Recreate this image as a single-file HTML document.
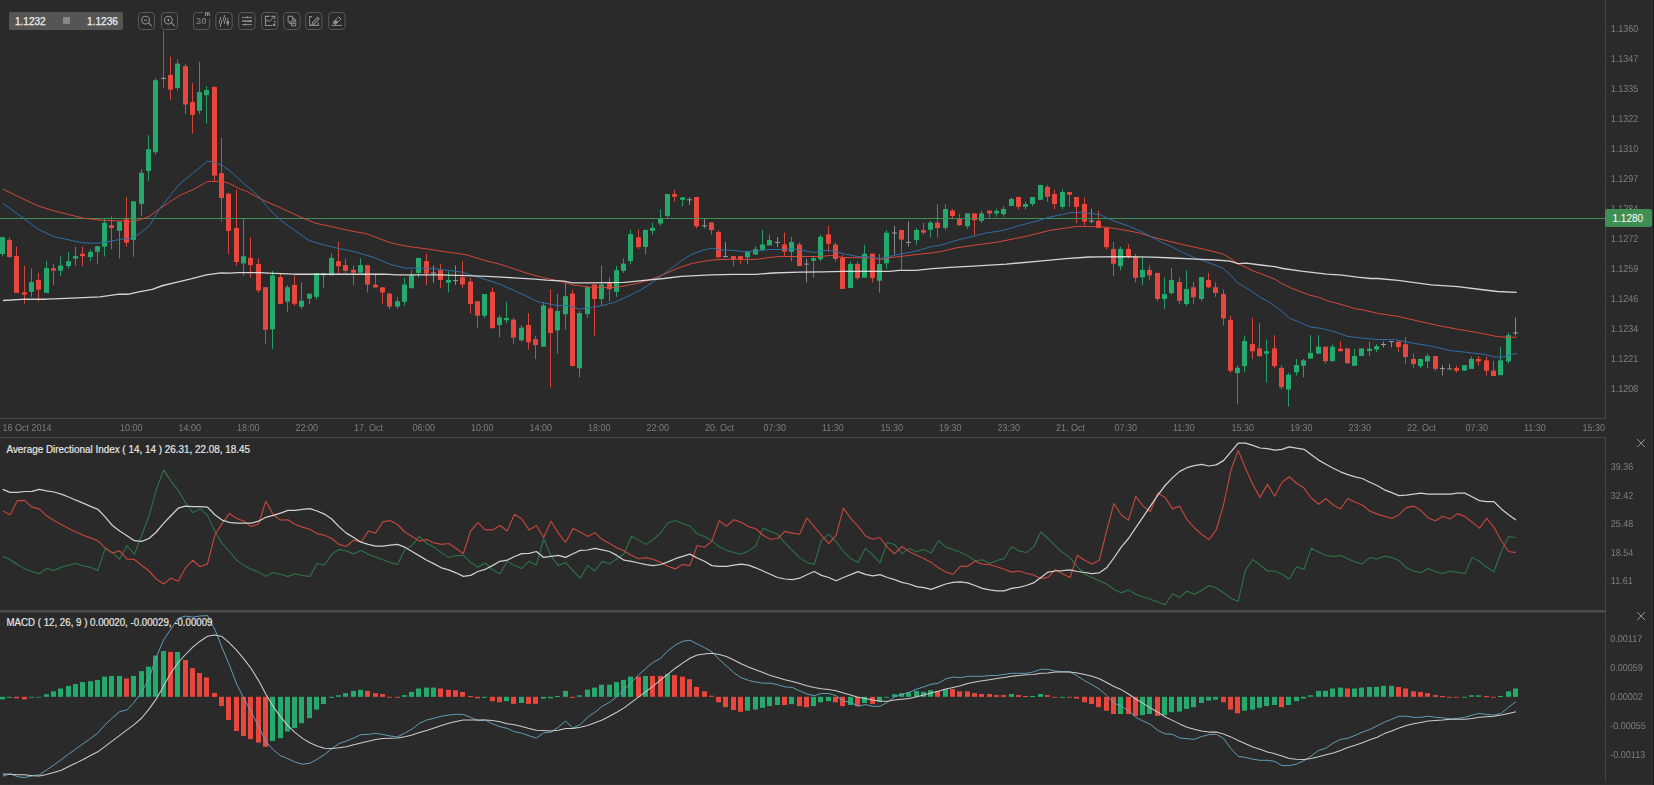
<!DOCTYPE html>
<html><head><meta charset="utf-8"><title>Chart</title>
<style>html,body{margin:0;padding:0;background:#2a2a2a;width:1654px;height:785px;overflow:hidden;position:relative}</style></head>
<body>
<svg width="1654" height="785" viewBox="0 0 1654 785" style="display:block;font-family:'Liberation Sans',sans-serif">
<rect x="0" y="0" width="1654" height="785" fill="#2a2a2a"/>
<g fill="#454545">
<rect x="1605" y="0" width="1" height="418"/>
<rect x="1605" y="437" width="1" height="345"/>
<rect x="0" y="418" width="1606" height="1"/>
<rect x="0" y="437" width="1606" height="1"/>
</g>
<rect x="0" y="610" width="1605" height="2.5" fill="#4c4c4c"/>
<rect x="0" y="784" width="1654" height="1" fill="#303030"/>
<rect x="1652" y="0" width="1" height="785" fill="#343434"/>
<rect x="1653" y="0" width="1" height="785" fill="#151515"/>
<g fill="#454545">
<rect x="1.50" y="419" width="1" height="1.2" fill="#3a3a3a"/>
<rect x="30.75" y="419" width="1" height="1.2" fill="#3a3a3a"/>
<rect x="60.00" y="419" width="1" height="1.2" fill="#3a3a3a"/>
<rect x="89.25" y="419" width="1" height="1.2" fill="#3a3a3a"/>
<rect x="118.50" y="419" width="1" height="1.2" fill="#3a3a3a"/>
<rect x="147.75" y="419" width="1" height="1.2" fill="#3a3a3a"/>
<rect x="177.00" y="419" width="1" height="1.2" fill="#3a3a3a"/>
<rect x="206.25" y="419" width="1" height="1.2" fill="#3a3a3a"/>
<rect x="235.50" y="419" width="1" height="1.2" fill="#3a3a3a"/>
<rect x="264.75" y="419" width="1" height="1.2" fill="#3a3a3a"/>
<rect x="294.00" y="419" width="1" height="1.2" fill="#3a3a3a"/>
<rect x="323.25" y="419" width="1" height="1.2" fill="#3a3a3a"/>
<rect x="352.50" y="419" width="1" height="1.2" fill="#3a3a3a"/>
<rect x="381.75" y="419" width="1" height="1.2" fill="#3a3a3a"/>
<rect x="411.00" y="419" width="1" height="1.2" fill="#3a3a3a"/>
<rect x="440.25" y="419" width="1" height="1.2" fill="#3a3a3a"/>
<rect x="469.50" y="419" width="1" height="1.2" fill="#3a3a3a"/>
<rect x="498.75" y="419" width="1" height="1.2" fill="#3a3a3a"/>
<rect x="528.00" y="419" width="1" height="1.2" fill="#3a3a3a"/>
<rect x="557.25" y="419" width="1" height="1.2" fill="#3a3a3a"/>
<rect x="586.50" y="419" width="1" height="1.2" fill="#3a3a3a"/>
<rect x="615.75" y="419" width="1" height="1.2" fill="#3a3a3a"/>
<rect x="645.00" y="419" width="1" height="1.2" fill="#3a3a3a"/>
<rect x="674.25" y="419" width="1" height="1.2" fill="#3a3a3a"/>
<rect x="703.50" y="419" width="1" height="1.2" fill="#3a3a3a"/>
<rect x="732.75" y="419" width="1" height="1.2" fill="#3a3a3a"/>
<rect x="762.00" y="419" width="1" height="1.2" fill="#3a3a3a"/>
<rect x="791.25" y="419" width="1" height="1.2" fill="#3a3a3a"/>
<rect x="820.50" y="419" width="1" height="1.2" fill="#3a3a3a"/>
<rect x="849.75" y="419" width="1" height="1.2" fill="#3a3a3a"/>
<rect x="879.00" y="419" width="1" height="1.2" fill="#3a3a3a"/>
<rect x="908.25" y="419" width="1" height="1.2" fill="#3a3a3a"/>
<rect x="937.50" y="419" width="1" height="1.2" fill="#3a3a3a"/>
<rect x="966.75" y="419" width="1" height="1.2" fill="#3a3a3a"/>
<rect x="996.00" y="419" width="1" height="1.2" fill="#3a3a3a"/>
<rect x="1025.25" y="419" width="1" height="1.2" fill="#3a3a3a"/>
<rect x="1054.50" y="419" width="1" height="1.2" fill="#3a3a3a"/>
<rect x="1083.75" y="419" width="1" height="1.2" fill="#3a3a3a"/>
<rect x="1113.00" y="419" width="1" height="1.2" fill="#3a3a3a"/>
<rect x="1142.25" y="419" width="1" height="1.2" fill="#3a3a3a"/>
<rect x="1171.50" y="419" width="1" height="1.2" fill="#3a3a3a"/>
<rect x="1200.75" y="419" width="1" height="1.2" fill="#3a3a3a"/>
<rect x="1230.00" y="419" width="1" height="1.2" fill="#3a3a3a"/>
<rect x="1259.25" y="419" width="1" height="1.2" fill="#3a3a3a"/>
<rect x="1288.50" y="419" width="1" height="1.2" fill="#3a3a3a"/>
<rect x="1317.75" y="419" width="1" height="1.2" fill="#3a3a3a"/>
<rect x="1347.00" y="419" width="1" height="1.2" fill="#3a3a3a"/>
<rect x="1376.25" y="419" width="1" height="1.2" fill="#3a3a3a"/>
<rect x="1405.50" y="419" width="1" height="1.2" fill="#3a3a3a"/>
<rect x="1434.75" y="419" width="1" height="1.2" fill="#3a3a3a"/>
<rect x="1464.00" y="419" width="1" height="1.2" fill="#3a3a3a"/>
<rect x="1493.25" y="419" width="1" height="1.2" fill="#3a3a3a"/>
<rect x="1522.50" y="419" width="1" height="1.2" fill="#3a3a3a"/>
<rect x="1551.75" y="419" width="1" height="1.2" fill="#3a3a3a"/>
<rect x="1581.00" y="419" width="1" height="1.2" fill="#3a3a3a"/>
</g>
<rect x="1606" y="27.8" width="1.5" height="1" fill="#3e3e3e"/>
<rect x="1606" y="57.8" width="1.5" height="1" fill="#3e3e3e"/>
<rect x="1606" y="87.8" width="1.5" height="1" fill="#3e3e3e"/>
<rect x="1606" y="117.8" width="1.5" height="1" fill="#3e3e3e"/>
<rect x="1606" y="147.8" width="1.5" height="1" fill="#3e3e3e"/>
<rect x="1606" y="177.8" width="1.5" height="1" fill="#3e3e3e"/>
<rect x="1606" y="207.8" width="1.5" height="1" fill="#3e3e3e"/>
<rect x="1606" y="237.8" width="1.5" height="1" fill="#3e3e3e"/>
<rect x="1606" y="267.8" width="1.5" height="1" fill="#3e3e3e"/>
<rect x="1606" y="297.8" width="1.5" height="1" fill="#3e3e3e"/>
<rect x="1606" y="327.8" width="1.5" height="1" fill="#3e3e3e"/>
<rect x="1606" y="357.8" width="1.5" height="1" fill="#3e3e3e"/>
<rect x="1606" y="387.8" width="1.5" height="1" fill="#3e3e3e"/>
<rect x="1606" y="465.9" width="1.5" height="1" fill="#3e3e3e"/>
<rect x="1606" y="494.7" width="1.5" height="1" fill="#3e3e3e"/>
<rect x="1606" y="523.3" width="1.5" height="1" fill="#3e3e3e"/>
<rect x="1606" y="551.9" width="1.5" height="1" fill="#3e3e3e"/>
<rect x="1606" y="580.5" width="1.5" height="1" fill="#3e3e3e"/>
<rect x="1606" y="638.5" width="1.5" height="1" fill="#3e3e3e"/>
<rect x="1606" y="667.3" width="1.5" height="1" fill="#3e3e3e"/>
<rect x="1606" y="696.0" width="1.5" height="1" fill="#3e3e3e"/>
<rect x="1606" y="724.8" width="1.5" height="1" fill="#3e3e3e"/>
<rect x="1606" y="753.7" width="1.5" height="1" fill="#3e3e3e"/>
<g>
<rect x="2.00" y="237.0" width="1" height="19.2" fill="#249d65"/>
<rect x="0.00" y="237.1" width="5" height="16.9" fill="#26a96c"/>
<rect x="9.00" y="237.6" width="1" height="20.5" fill="#d8443a"/>
<rect x="7.00" y="239.9" width="5" height="17.1" fill="#e8473d"/>
<rect x="16.00" y="246.6" width="1" height="46.3" fill="#d8443a"/>
<rect x="14.00" y="256.2" width="5" height="36.7" fill="#e8473d"/>
<rect x="24.00" y="265.8" width="1" height="38.0" fill="#d8443a"/>
<rect x="22.00" y="292.3" width="5" height="2.3" fill="#e8473d"/>
<rect x="31.00" y="268.6" width="1" height="28.1" fill="#249d65"/>
<rect x="29.00" y="282.0" width="5" height="9.9" fill="#26a96c"/>
<rect x="38.00" y="273.0" width="1" height="28.2" fill="#d8443a"/>
<rect x="36.00" y="280.0" width="5" height="9.6" fill="#e8473d"/>
<rect x="46.00" y="261.1" width="1" height="31.8" fill="#249d65"/>
<rect x="44.00" y="268.1" width="5" height="24.8" fill="#26a96c"/>
<rect x="53.00" y="263.9" width="1" height="21.2" fill="#d8443a"/>
<rect x="51.00" y="268.2" width="5" height="2.5" fill="#e8473d"/>
<rect x="60.00" y="256.5" width="1" height="19.2" fill="#249d65"/>
<rect x="58.00" y="265.6" width="5" height="5.1" fill="#26a96c"/>
<rect x="68.00" y="252.0" width="1" height="16.6" fill="#249d65"/>
<rect x="66.00" y="261.1" width="5" height="5.0" fill="#26a96c"/>
<rect x="75.00" y="246.6" width="1" height="19.2" fill="#249d65"/>
<rect x="73.00" y="256.2" width="5" height="2.4" fill="#26a96c"/>
<rect x="82.00" y="246.6" width="1" height="19.5" fill="#d8443a"/>
<rect x="80.00" y="253.8" width="5" height="2.4" fill="#e8473d"/>
<rect x="90.00" y="249.5" width="1" height="11.6" fill="#249d65"/>
<rect x="88.00" y="252.0" width="5" height="5.0" fill="#26a96c"/>
<rect x="97.00" y="246.2" width="1" height="17.4" fill="#249d65"/>
<rect x="95.00" y="246.2" width="5" height="5.5" fill="#26a96c"/>
<rect x="104.00" y="218.9" width="1" height="37.6" fill="#249d65"/>
<rect x="102.00" y="222.7" width="5" height="24.0" fill="#26a96c"/>
<rect x="111.00" y="216.4" width="1" height="32.8" fill="#d8443a"/>
<rect x="109.00" y="225.2" width="5" height="2.8" fill="#e8473d"/>
<rect x="119.00" y="221.2" width="1" height="37.2" fill="#249d65"/>
<rect x="117.00" y="221.6" width="5" height="9.2" fill="#26a96c"/>
<rect x="126.00" y="197.1" width="1" height="49.7" fill="#d8443a"/>
<rect x="124.00" y="219.2" width="5" height="23.5" fill="#e8473d"/>
<rect x="133.00" y="201.3" width="1" height="55.5" fill="#249d65"/>
<rect x="131.00" y="201.3" width="5" height="38.6" fill="#26a96c"/>
<rect x="141.00" y="169.0" width="1" height="47.2" fill="#249d65"/>
<rect x="139.00" y="172.8" width="5" height="31.0" fill="#26a96c"/>
<rect x="148.00" y="135.2" width="1" height="45.7" fill="#249d65"/>
<rect x="146.00" y="149.2" width="5" height="21.8" fill="#26a96c"/>
<rect x="155.00" y="78.4" width="1" height="76.0" fill="#249d65"/>
<rect x="153.00" y="80.2" width="5" height="72.0" fill="#26a96c"/>
<rect x="163.00" y="30.8" width="1" height="56.8" fill="#6a6a6a"/>
<rect x="161.00" y="77.9" width="5" height="1" fill="#9a9a9a"/>
<rect x="170.00" y="56.5" width="1" height="43.1" fill="#d8443a"/>
<rect x="168.00" y="75.0" width="5" height="14.6" fill="#e8473d"/>
<rect x="177.00" y="59.3" width="1" height="31.2" fill="#249d65"/>
<rect x="175.00" y="63.6" width="5" height="24.4" fill="#26a96c"/>
<rect x="185.00" y="64.0" width="1" height="50.1" fill="#d8443a"/>
<rect x="183.00" y="66.1" width="5" height="38.4" fill="#e8473d"/>
<rect x="192.00" y="83.3" width="1" height="50.2" fill="#d8443a"/>
<rect x="190.00" y="102.0" width="5" height="12.8" fill="#e8473d"/>
<rect x="199.00" y="61.8" width="1" height="52.3" fill="#249d65"/>
<rect x="197.00" y="92.1" width="5" height="18.7" fill="#26a96c"/>
<rect x="206.00" y="86.0" width="1" height="37.6" fill="#249d65"/>
<rect x="204.00" y="90.1" width="5" height="5.0" fill="#26a96c"/>
<rect x="214.00" y="86.0" width="1" height="96.2" fill="#d8443a"/>
<rect x="212.00" y="87.1" width="5" height="88.5" fill="#e8473d"/>
<rect x="221.00" y="137.7" width="1" height="83.8" fill="#d8443a"/>
<rect x="219.00" y="173.1" width="5" height="24.9" fill="#e8473d"/>
<rect x="228.00" y="192.7" width="1" height="61.3" fill="#d8443a"/>
<rect x="226.00" y="193.8" width="5" height="37.0" fill="#e8473d"/>
<rect x="236.00" y="189.7" width="1" height="76.0" fill="#d8443a"/>
<rect x="234.00" y="228.0" width="5" height="34.0" fill="#e8473d"/>
<rect x="243.00" y="218.5" width="1" height="57.2" fill="#249d65"/>
<rect x="241.00" y="256.2" width="5" height="7.2" fill="#26a96c"/>
<rect x="250.00" y="237.4" width="1" height="40.0" fill="#d8443a"/>
<rect x="248.00" y="257.9" width="5" height="7.2" fill="#e8473d"/>
<rect x="258.00" y="258.4" width="1" height="34.2" fill="#d8443a"/>
<rect x="256.00" y="264.0" width="5" height="26.4" fill="#e8473d"/>
<rect x="265.00" y="287.2" width="1" height="57.3" fill="#d8443a"/>
<rect x="263.00" y="287.2" width="5" height="42.6" fill="#e8473d"/>
<rect x="272.00" y="270.9" width="1" height="78.0" fill="#249d65"/>
<rect x="270.00" y="275.3" width="5" height="54.1" fill="#26a96c"/>
<rect x="280.00" y="273.5" width="1" height="30.3" fill="#d8443a"/>
<rect x="278.00" y="277.0" width="5" height="26.8" fill="#e8473d"/>
<rect x="287.00" y="285.0" width="1" height="26.6" fill="#249d65"/>
<rect x="285.00" y="287.2" width="5" height="14.5" fill="#26a96c"/>
<rect x="294.00" y="275.3" width="1" height="30.7" fill="#d8443a"/>
<rect x="292.00" y="285.0" width="5" height="18.8" fill="#e8473d"/>
<rect x="301.00" y="282.2" width="1" height="26.6" fill="#249d65"/>
<rect x="299.00" y="300.8" width="5" height="5.9" fill="#26a96c"/>
<rect x="309.00" y="293.7" width="1" height="10.8" fill="#249d65"/>
<rect x="307.00" y="293.7" width="5" height="4.9" fill="#26a96c"/>
<rect x="316.00" y="273.1" width="1" height="26.4" fill="#249d65"/>
<rect x="314.00" y="273.1" width="5" height="23.8" fill="#26a96c"/>
<rect x="323.00" y="273.1" width="1" height="14.7" fill="#249d65"/>
<rect x="321.00" y="273.1" width="5" height="2.2" fill="#26a96c"/>
<rect x="331.00" y="253.6" width="1" height="21.7" fill="#249d65"/>
<rect x="329.00" y="257.9" width="5" height="17.4" fill="#26a96c"/>
<rect x="338.00" y="242.1" width="1" height="31.4" fill="#d8443a"/>
<rect x="336.00" y="261.2" width="5" height="5.0" fill="#e8473d"/>
<rect x="345.00" y="258.4" width="1" height="14.7" fill="#d8443a"/>
<rect x="343.00" y="265.1" width="5" height="5.8" fill="#e8473d"/>
<rect x="353.00" y="265.5" width="1" height="19.9" fill="#d8443a"/>
<rect x="351.00" y="269.8" width="5" height="2.9" fill="#e8473d"/>
<rect x="360.00" y="258.4" width="1" height="14.7" fill="#249d65"/>
<rect x="358.00" y="265.1" width="5" height="7.6" fill="#26a96c"/>
<rect x="367.00" y="265.1" width="1" height="27.5" fill="#d8443a"/>
<rect x="365.00" y="265.1" width="5" height="19.5" fill="#e8473d"/>
<rect x="375.00" y="273.5" width="1" height="14.1" fill="#d8443a"/>
<rect x="373.00" y="284.6" width="5" height="2.8" fill="#e8473d"/>
<rect x="382.00" y="287.1" width="1" height="17.3" fill="#d8443a"/>
<rect x="380.00" y="287.4" width="5" height="5.1" fill="#e8473d"/>
<rect x="389.00" y="292.5" width="1" height="16.7" fill="#d8443a"/>
<rect x="387.00" y="293.6" width="5" height="13.0" fill="#e8473d"/>
<rect x="397.00" y="296.9" width="1" height="11.9" fill="#249d65"/>
<rect x="395.00" y="301.2" width="5" height="5.4" fill="#26a96c"/>
<rect x="404.00" y="278.0" width="1" height="27.9" fill="#249d65"/>
<rect x="402.00" y="284.5" width="5" height="17.3" fill="#26a96c"/>
<rect x="411.00" y="270.4" width="1" height="17.8" fill="#249d65"/>
<rect x="409.00" y="275.2" width="5" height="13.0" fill="#26a96c"/>
<rect x="418.00" y="257.9" width="1" height="19.5" fill="#249d65"/>
<rect x="416.00" y="257.9" width="5" height="15.1" fill="#26a96c"/>
<rect x="426.00" y="253.6" width="1" height="31.3" fill="#d8443a"/>
<rect x="424.00" y="261.1" width="5" height="12.4" fill="#e8473d"/>
<rect x="433.00" y="265.5" width="1" height="17.3" fill="#888888"/>
<rect x="431.00" y="272.5" width="5" height="1" fill="#9a9a9a"/>
<rect x="440.00" y="263.9" width="1" height="23.9" fill="#d8443a"/>
<rect x="438.00" y="270.2" width="5" height="9.8" fill="#e8473d"/>
<rect x="448.00" y="271.3" width="1" height="21.2" fill="#249d65"/>
<rect x="446.00" y="280.0" width="5" height="2.8" fill="#26a96c"/>
<rect x="455.00" y="265.5" width="1" height="19.4" fill="#888888"/>
<rect x="453.00" y="280.1" width="5" height="1" fill="#9a9a9a"/>
<rect x="462.00" y="261.1" width="1" height="26.7" fill="#d8443a"/>
<rect x="460.00" y="277.4" width="5" height="7.1" fill="#e8473d"/>
<rect x="470.00" y="278.0" width="1" height="35.5" fill="#d8443a"/>
<rect x="468.00" y="281.7" width="5" height="22.3" fill="#e8473d"/>
<rect x="477.00" y="301.2" width="1" height="26.6" fill="#d8443a"/>
<rect x="475.00" y="301.2" width="5" height="14.5" fill="#e8473d"/>
<rect x="484.00" y="294.0" width="1" height="24.1" fill="#249d65"/>
<rect x="482.00" y="294.0" width="5" height="21.7" fill="#26a96c"/>
<rect x="492.00" y="287.5" width="1" height="40.7" fill="#d8443a"/>
<rect x="490.00" y="291.9" width="5" height="36.3" fill="#e8473d"/>
<rect x="499.00" y="315.3" width="1" height="22.0" fill="#249d65"/>
<rect x="497.00" y="317.4" width="5" height="7.6" fill="#26a96c"/>
<rect x="506.00" y="301.6" width="1" height="21.9" fill="#249d65"/>
<rect x="504.00" y="317.9" width="5" height="2.3" fill="#26a96c"/>
<rect x="513.00" y="317.9" width="1" height="26.6" fill="#d8443a"/>
<rect x="511.00" y="319.6" width="5" height="18.0" fill="#e8473d"/>
<rect x="521.00" y="325.0" width="1" height="16.9" fill="#249d65"/>
<rect x="519.00" y="327.6" width="5" height="12.6" fill="#26a96c"/>
<rect x="528.00" y="313.1" width="1" height="36.4" fill="#d8443a"/>
<rect x="526.00" y="325.0" width="5" height="17.3" fill="#e8473d"/>
<rect x="535.00" y="335.8" width="1" height="23.4" fill="#d8443a"/>
<rect x="533.00" y="339.1" width="5" height="6.0" fill="#e8473d"/>
<rect x="543.00" y="302.3" width="1" height="44.3" fill="#249d65"/>
<rect x="541.00" y="305.5" width="5" height="41.1" fill="#26a96c"/>
<rect x="550.00" y="289.3" width="1" height="98.1" fill="#d8443a"/>
<rect x="548.00" y="308.3" width="5" height="24.7" fill="#e8473d"/>
<rect x="557.00" y="294.0" width="1" height="59.6" fill="#249d65"/>
<rect x="555.00" y="310.9" width="5" height="19.5" fill="#26a96c"/>
<rect x="565.00" y="282.8" width="1" height="47.0" fill="#249d65"/>
<rect x="563.00" y="296.2" width="5" height="18.0" fill="#26a96c"/>
<rect x="572.00" y="289.7" width="1" height="76.4" fill="#d8443a"/>
<rect x="570.00" y="293.6" width="5" height="72.5" fill="#e8473d"/>
<rect x="579.00" y="310.9" width="1" height="66.5" fill="#249d65"/>
<rect x="577.00" y="313.1" width="5" height="55.2" fill="#26a96c"/>
<rect x="587.00" y="287.1" width="1" height="30.8" fill="#249d65"/>
<rect x="585.00" y="287.1" width="5" height="27.1" fill="#26a96c"/>
<rect x="594.00" y="284.5" width="1" height="50.9" fill="#d8443a"/>
<rect x="592.00" y="284.5" width="5" height="14.5" fill="#e8473d"/>
<rect x="601.00" y="265.5" width="1" height="40.4" fill="#249d65"/>
<rect x="599.00" y="284.5" width="5" height="14.5" fill="#26a96c"/>
<rect x="609.00" y="277.4" width="1" height="24.2" fill="#d8443a"/>
<rect x="607.00" y="282.8" width="5" height="6.5" fill="#e8473d"/>
<rect x="616.00" y="265.9" width="1" height="31.0" fill="#249d65"/>
<rect x="614.00" y="270.2" width="5" height="21.7" fill="#26a96c"/>
<rect x="623.00" y="258.5" width="1" height="14.5" fill="#249d65"/>
<rect x="621.00" y="263.7" width="5" height="7.2" fill="#26a96c"/>
<rect x="630.00" y="229.7" width="1" height="34.2" fill="#249d65"/>
<rect x="628.00" y="234.1" width="5" height="27.0" fill="#26a96c"/>
<rect x="638.00" y="229.7" width="1" height="19.5" fill="#d8443a"/>
<rect x="636.00" y="237.3" width="5" height="9.8" fill="#e8473d"/>
<rect x="645.00" y="229.9" width="1" height="24.5" fill="#249d65"/>
<rect x="643.00" y="229.9" width="5" height="17.1" fill="#26a96c"/>
<rect x="652.00" y="222.7" width="1" height="12.1" fill="#249d65"/>
<rect x="650.00" y="227.8" width="5" height="3.0" fill="#26a96c"/>
<rect x="660.00" y="209.3" width="1" height="16.2" fill="#249d65"/>
<rect x="658.00" y="218.5" width="5" height="5.0" fill="#26a96c"/>
<rect x="667.00" y="194.0" width="1" height="24.0" fill="#249d65"/>
<rect x="665.00" y="194.0" width="5" height="21.9" fill="#26a96c"/>
<rect x="674.00" y="189.9" width="1" height="11.9" fill="#d8443a"/>
<rect x="672.00" y="194.0" width="5" height="2.8" fill="#e8473d"/>
<rect x="682.00" y="197.3" width="1" height="9.1" fill="#249d65"/>
<rect x="680.00" y="197.3" width="5" height="2.5" fill="#26a96c"/>
<rect x="689.00" y="197.3" width="1" height="7.5" fill="#888888"/>
<rect x="687.00" y="199.3" width="5" height="1" fill="#9a9a9a"/>
<rect x="696.00" y="197.0" width="1" height="31.5" fill="#d8443a"/>
<rect x="694.00" y="197.0" width="5" height="29.3" fill="#e8473d"/>
<rect x="704.00" y="218.9" width="1" height="9.4" fill="#888888"/>
<rect x="702.00" y="225.3" width="5" height="1" fill="#9a9a9a"/>
<rect x="711.00" y="222.5" width="1" height="12.4" fill="#d8443a"/>
<rect x="709.00" y="222.5" width="5" height="7.5" fill="#e8473d"/>
<rect x="718.00" y="230.5" width="1" height="28.1" fill="#d8443a"/>
<rect x="716.00" y="232.1" width="5" height="25.2" fill="#e8473d"/>
<rect x="725.00" y="242.0" width="1" height="15.8" fill="#888888"/>
<rect x="723.00" y="256.1" width="5" height="1" fill="#9a9a9a"/>
<rect x="733.00" y="256.1" width="1" height="10.0" fill="#d8443a"/>
<rect x="731.00" y="256.1" width="5" height="3.3" fill="#e8473d"/>
<rect x="740.00" y="256.1" width="1" height="8.3" fill="#d8443a"/>
<rect x="738.00" y="256.1" width="5" height="3.3" fill="#e8473d"/>
<rect x="747.00" y="251.2" width="1" height="12.9" fill="#249d65"/>
<rect x="745.00" y="252.0" width="5" height="5.3" fill="#26a96c"/>
<rect x="755.00" y="246.5" width="1" height="8.0" fill="#249d65"/>
<rect x="753.00" y="249.2" width="5" height="5.3" fill="#26a96c"/>
<rect x="762.00" y="230.0" width="1" height="19.8" fill="#249d65"/>
<rect x="760.00" y="244.5" width="5" height="5.3" fill="#26a96c"/>
<rect x="769.00" y="234.6" width="1" height="10.8" fill="#249d65"/>
<rect x="767.00" y="239.9" width="5" height="5.5" fill="#26a96c"/>
<rect x="777.00" y="237.1" width="1" height="9.9" fill="#888888"/>
<rect x="775.00" y="241.9" width="5" height="1" fill="#9a9a9a"/>
<rect x="784.00" y="232.6" width="1" height="23.9" fill="#d8443a"/>
<rect x="782.00" y="244.5" width="5" height="7.2" fill="#e8473d"/>
<rect x="791.00" y="237.3" width="1" height="24.1" fill="#249d65"/>
<rect x="789.00" y="242.0" width="5" height="9.8" fill="#26a96c"/>
<rect x="799.00" y="242.3" width="1" height="23.8" fill="#d8443a"/>
<rect x="797.00" y="244.5" width="5" height="21.6" fill="#e8473d"/>
<rect x="806.00" y="258.7" width="1" height="23.7" fill="#888888"/>
<rect x="804.00" y="263.6" width="5" height="1" fill="#9a9a9a"/>
<rect x="813.00" y="257.0" width="1" height="20.7" fill="#249d65"/>
<rect x="811.00" y="258.2" width="5" height="2.6" fill="#26a96c"/>
<rect x="820.00" y="234.7" width="1" height="26.5" fill="#249d65"/>
<rect x="818.00" y="236.8" width="5" height="22.4" fill="#26a96c"/>
<rect x="828.00" y="225.9" width="1" height="26.1" fill="#d8443a"/>
<rect x="826.00" y="234.3" width="5" height="9.5" fill="#e8473d"/>
<rect x="835.00" y="242.6" width="1" height="18.9" fill="#d8443a"/>
<rect x="833.00" y="244.6" width="5" height="14.4" fill="#e8473d"/>
<rect x="842.00" y="254.9" width="1" height="34.1" fill="#d8443a"/>
<rect x="840.00" y="257.8" width="5" height="31.2" fill="#e8473d"/>
<rect x="850.00" y="261.5" width="1" height="26.5" fill="#249d65"/>
<rect x="848.00" y="264.0" width="5" height="24.0" fill="#26a96c"/>
<rect x="857.00" y="261.5" width="1" height="19.0" fill="#d8443a"/>
<rect x="855.00" y="264.0" width="5" height="14.1" fill="#e8473d"/>
<rect x="864.00" y="244.9" width="1" height="32.8" fill="#249d65"/>
<rect x="862.00" y="253.7" width="5" height="24.0" fill="#26a96c"/>
<rect x="872.00" y="253.7" width="1" height="28.7" fill="#d8443a"/>
<rect x="870.00" y="253.7" width="5" height="24.4" fill="#e8473d"/>
<rect x="879.00" y="254.0" width="1" height="38.6" fill="#249d65"/>
<rect x="877.00" y="264.0" width="5" height="16.7" fill="#26a96c"/>
<rect x="886.00" y="230.2" width="1" height="38.4" fill="#249d65"/>
<rect x="884.00" y="232.7" width="5" height="30.6" fill="#26a96c"/>
<rect x="894.00" y="225.9" width="1" height="28.6" fill="#888888"/>
<rect x="892.00" y="232.5" width="5" height="1" fill="#9a9a9a"/>
<rect x="901.00" y="230.0" width="1" height="39.9" fill="#d8443a"/>
<rect x="899.00" y="230.0" width="5" height="9.6" fill="#e8473d"/>
<rect x="908.00" y="221.4" width="1" height="25.2" fill="#888888"/>
<rect x="906.00" y="241.9" width="5" height="1" fill="#9a9a9a"/>
<rect x="916.00" y="228.4" width="1" height="16.2" fill="#249d65"/>
<rect x="914.00" y="230.0" width="5" height="10.0" fill="#26a96c"/>
<rect x="923.00" y="222.7" width="1" height="12.0" fill="#d8443a"/>
<rect x="921.00" y="230.2" width="5" height="2.5" fill="#e8473d"/>
<rect x="930.00" y="220.9" width="1" height="16.6" fill="#249d65"/>
<rect x="928.00" y="222.6" width="5" height="7.1" fill="#26a96c"/>
<rect x="937.00" y="204.5" width="1" height="33.0" fill="#d8443a"/>
<rect x="935.00" y="222.6" width="5" height="5.4" fill="#e8473d"/>
<rect x="945.00" y="204.5" width="1" height="25.9" fill="#249d65"/>
<rect x="943.00" y="209.0" width="5" height="18.8" fill="#26a96c"/>
<rect x="952.00" y="208.9" width="1" height="9.1" fill="#d8443a"/>
<rect x="950.00" y="210.6" width="5" height="5.4" fill="#e8473d"/>
<rect x="959.00" y="213.9" width="1" height="12.1" fill="#d8443a"/>
<rect x="957.00" y="218.0" width="5" height="7.2" fill="#e8473d"/>
<rect x="967.00" y="213.4" width="1" height="15.4" fill="#249d65"/>
<rect x="965.00" y="213.4" width="5" height="12.9" fill="#26a96c"/>
<rect x="974.00" y="213.4" width="1" height="21.5" fill="#d8443a"/>
<rect x="972.00" y="213.4" width="5" height="6.8" fill="#e8473d"/>
<rect x="981.00" y="210.9" width="1" height="12.1" fill="#249d65"/>
<rect x="979.00" y="213.4" width="5" height="7.4" fill="#26a96c"/>
<rect x="989.00" y="210.6" width="1" height="7.4" fill="#d8443a"/>
<rect x="987.00" y="210.6" width="5" height="2.8" fill="#e8473d"/>
<rect x="996.00" y="208.9" width="1" height="7.8" fill="#249d65"/>
<rect x="994.00" y="210.9" width="5" height="2.5" fill="#26a96c"/>
<rect x="1003.00" y="206.1" width="1" height="10.6" fill="#249d65"/>
<rect x="1001.00" y="208.9" width="5" height="5.3" fill="#26a96c"/>
<rect x="1011.00" y="197.3" width="1" height="8.6" fill="#249d65"/>
<rect x="1009.00" y="199.0" width="5" height="6.9" fill="#26a96c"/>
<rect x="1018.00" y="197.0" width="1" height="12.4" fill="#d8443a"/>
<rect x="1016.00" y="197.0" width="5" height="9.8" fill="#e8473d"/>
<rect x="1025.00" y="201.5" width="1" height="7.9" fill="#249d65"/>
<rect x="1023.00" y="204.0" width="5" height="2.8" fill="#26a96c"/>
<rect x="1032.00" y="197.0" width="1" height="9.4" fill="#249d65"/>
<rect x="1030.00" y="197.0" width="5" height="7.0" fill="#26a96c"/>
<rect x="1040.00" y="184.9" width="1" height="14.9" fill="#249d65"/>
<rect x="1038.00" y="184.9" width="5" height="14.9" fill="#26a96c"/>
<rect x="1047.00" y="184.9" width="1" height="17.1" fill="#d8443a"/>
<rect x="1045.00" y="186.9" width="5" height="9.9" fill="#e8473d"/>
<rect x="1054.00" y="189.5" width="1" height="19.9" fill="#d8443a"/>
<rect x="1052.00" y="194.0" width="5" height="10.0" fill="#e8473d"/>
<rect x="1062.00" y="189.5" width="1" height="19.9" fill="#249d65"/>
<rect x="1060.00" y="192.0" width="5" height="14.8" fill="#26a96c"/>
<rect x="1069.00" y="192.0" width="1" height="14.4" fill="#d8443a"/>
<rect x="1067.00" y="192.0" width="5" height="2.8" fill="#e8473d"/>
<rect x="1076.00" y="197.0" width="1" height="26.0" fill="#d8443a"/>
<rect x="1074.00" y="197.0" width="5" height="9.8" fill="#e8473d"/>
<rect x="1084.00" y="197.3" width="1" height="28.2" fill="#d8443a"/>
<rect x="1082.00" y="204.0" width="5" height="17.7" fill="#e8473d"/>
<rect x="1091.00" y="208.8" width="1" height="14.4" fill="#888888"/>
<rect x="1089.00" y="220.6" width="5" height="1" fill="#9a9a9a"/>
<rect x="1098.00" y="210.7" width="1" height="17.5" fill="#d8443a"/>
<rect x="1096.00" y="220.8" width="5" height="7.1" fill="#e8473d"/>
<rect x="1106.00" y="227.8" width="1" height="21.6" fill="#d8443a"/>
<rect x="1104.00" y="227.8" width="5" height="19.4" fill="#e8473d"/>
<rect x="1113.00" y="241.9" width="1" height="34.3" fill="#d8443a"/>
<rect x="1111.00" y="248.9" width="5" height="14.9" fill="#e8473d"/>
<rect x="1120.00" y="246.7" width="1" height="23.7" fill="#249d65"/>
<rect x="1118.00" y="248.9" width="5" height="17.4" fill="#26a96c"/>
<rect x="1128.00" y="244.4" width="1" height="13.9" fill="#d8443a"/>
<rect x="1126.00" y="248.9" width="5" height="7.7" fill="#e8473d"/>
<rect x="1135.00" y="253.8" width="1" height="28.7" fill="#d8443a"/>
<rect x="1133.00" y="256.8" width="5" height="21.0" fill="#e8473d"/>
<rect x="1142.00" y="256.8" width="1" height="28.2" fill="#249d65"/>
<rect x="1140.00" y="269.9" width="5" height="7.4" fill="#26a96c"/>
<rect x="1149.00" y="265.4" width="1" height="14.9" fill="#d8443a"/>
<rect x="1147.00" y="269.9" width="5" height="5.5" fill="#e8473d"/>
<rect x="1157.00" y="272.9" width="1" height="28.5" fill="#d8443a"/>
<rect x="1155.00" y="272.9" width="5" height="26.1" fill="#e8473d"/>
<rect x="1164.00" y="277.5" width="1" height="31.3" fill="#249d65"/>
<rect x="1162.00" y="294.1" width="5" height="4.9" fill="#26a96c"/>
<rect x="1171.00" y="268.2" width="1" height="26.2" fill="#249d65"/>
<rect x="1169.00" y="280.0" width="5" height="13.1" fill="#26a96c"/>
<rect x="1179.00" y="277.5" width="1" height="26.8" fill="#d8443a"/>
<rect x="1177.00" y="282.0" width="5" height="18.7" fill="#e8473d"/>
<rect x="1186.00" y="270.4" width="1" height="35.6" fill="#249d65"/>
<rect x="1184.00" y="288.9" width="5" height="15.1" fill="#26a96c"/>
<rect x="1193.00" y="282.0" width="1" height="22.3" fill="#d8443a"/>
<rect x="1191.00" y="287.3" width="5" height="9.9" fill="#e8473d"/>
<rect x="1201.00" y="277.0" width="1" height="24.4" fill="#249d65"/>
<rect x="1199.00" y="277.0" width="5" height="22.0" fill="#26a96c"/>
<rect x="1208.00" y="272.9" width="1" height="15.2" fill="#d8443a"/>
<rect x="1206.00" y="280.0" width="5" height="7.3" fill="#e8473d"/>
<rect x="1215.00" y="282.3" width="1" height="14.5" fill="#d8443a"/>
<rect x="1213.00" y="287.2" width="5" height="5.8" fill="#e8473d"/>
<rect x="1223.00" y="289.5" width="1" height="35.8" fill="#d8443a"/>
<rect x="1221.00" y="294.0" width="5" height="24.4" fill="#e8473d"/>
<rect x="1230.00" y="315.7" width="1" height="57.1" fill="#d8443a"/>
<rect x="1228.00" y="319.9" width="5" height="50.9" fill="#e8473d"/>
<rect x="1237.00" y="365.3" width="1" height="38.6" fill="#249d65"/>
<rect x="1235.00" y="367.8" width="5" height="5.3" fill="#26a96c"/>
<rect x="1244.00" y="335.5" width="1" height="36.9" fill="#249d65"/>
<rect x="1242.00" y="341.0" width="5" height="25.1" fill="#26a96c"/>
<rect x="1252.00" y="317.8" width="1" height="41.4" fill="#d8443a"/>
<rect x="1250.00" y="344.1" width="5" height="7.1" fill="#e8473d"/>
<rect x="1259.00" y="323.1" width="1" height="33.6" fill="#d8443a"/>
<rect x="1257.00" y="348.4" width="5" height="7.8" fill="#e8473d"/>
<rect x="1266.00" y="339.6" width="1" height="43.1" fill="#249d65"/>
<rect x="1264.00" y="351.2" width="5" height="2.5" fill="#26a96c"/>
<rect x="1274.00" y="335.2" width="1" height="33.1" fill="#d8443a"/>
<rect x="1272.00" y="348.4" width="5" height="17.7" fill="#e8473d"/>
<rect x="1281.00" y="365.3" width="1" height="24.0" fill="#d8443a"/>
<rect x="1279.00" y="367.8" width="5" height="19.4" fill="#e8473d"/>
<rect x="1288.00" y="372.8" width="1" height="33.9" fill="#249d65"/>
<rect x="1286.00" y="374.7" width="5" height="14.9" fill="#26a96c"/>
<rect x="1296.00" y="359.0" width="1" height="16.6" fill="#249d65"/>
<rect x="1294.00" y="365.0" width="5" height="7.3" fill="#26a96c"/>
<rect x="1303.00" y="359.0" width="1" height="18.4" fill="#249d65"/>
<rect x="1301.00" y="360.3" width="5" height="5.5" fill="#26a96c"/>
<rect x="1310.00" y="335.2" width="1" height="23.5" fill="#249d65"/>
<rect x="1308.00" y="352.9" width="5" height="5.8" fill="#26a96c"/>
<rect x="1318.00" y="335.2" width="1" height="18.5" fill="#249d65"/>
<rect x="1316.00" y="346.7" width="5" height="7.0" fill="#26a96c"/>
<rect x="1325.00" y="346.7" width="1" height="16.9" fill="#d8443a"/>
<rect x="1323.00" y="346.7" width="5" height="14.5" fill="#e8473d"/>
<rect x="1332.00" y="344.6" width="1" height="16.6" fill="#249d65"/>
<rect x="1330.00" y="346.7" width="5" height="14.5" fill="#26a96c"/>
<rect x="1340.00" y="341.3" width="1" height="10.2" fill="#d8443a"/>
<rect x="1338.00" y="348.7" width="5" height="2.5" fill="#e8473d"/>
<rect x="1347.00" y="348.4" width="1" height="15.6" fill="#d8443a"/>
<rect x="1345.00" y="348.4" width="5" height="14.7" fill="#e8473d"/>
<rect x="1354.00" y="348.7" width="1" height="17.1" fill="#249d65"/>
<rect x="1352.00" y="355.9" width="5" height="9.9" fill="#26a96c"/>
<rect x="1361.00" y="348.4" width="1" height="7.5" fill="#249d65"/>
<rect x="1359.00" y="348.4" width="5" height="7.5" fill="#26a96c"/>
<rect x="1369.00" y="341.6" width="1" height="14.9" fill="#249d65"/>
<rect x="1367.00" y="348.7" width="5" height="2.4" fill="#26a96c"/>
<rect x="1376.00" y="344.2" width="1" height="7.8" fill="#249d65"/>
<rect x="1374.00" y="346.2" width="5" height="3.3" fill="#26a96c"/>
<rect x="1383.00" y="341.6" width="1" height="5.9" fill="#888888"/>
<rect x="1381.00" y="344.0" width="5" height="1" fill="#9a9a9a"/>
<rect x="1391.00" y="341.6" width="1" height="5.9" fill="#888888"/>
<rect x="1389.00" y="341.1" width="5" height="1" fill="#9a9a9a"/>
<rect x="1398.00" y="341.6" width="1" height="10.4" fill="#d8443a"/>
<rect x="1396.00" y="341.6" width="5" height="5.4" fill="#e8473d"/>
<rect x="1405.00" y="337.1" width="1" height="26.5" fill="#d8443a"/>
<rect x="1403.00" y="344.2" width="5" height="12.8" fill="#e8473d"/>
<rect x="1413.00" y="353.6" width="1" height="14.6" fill="#d8443a"/>
<rect x="1411.00" y="358.9" width="5" height="5.2" fill="#e8473d"/>
<rect x="1420.00" y="358.9" width="1" height="9.3" fill="#249d65"/>
<rect x="1418.00" y="358.9" width="5" height="7.2" fill="#26a96c"/>
<rect x="1427.00" y="353.6" width="1" height="14.6" fill="#249d65"/>
<rect x="1425.00" y="356.1" width="5" height="5.3" fill="#26a96c"/>
<rect x="1435.00" y="356.1" width="1" height="14.9" fill="#d8443a"/>
<rect x="1433.00" y="356.1" width="5" height="12.8" fill="#e8473d"/>
<rect x="1442.00" y="365.2" width="1" height="10.3" fill="#888888"/>
<rect x="1440.00" y="368.1" width="5" height="1" fill="#9a9a9a"/>
<rect x="1449.00" y="363.6" width="1" height="5.3" fill="#888888"/>
<rect x="1447.00" y="368.4" width="5" height="1" fill="#9a9a9a"/>
<rect x="1456.00" y="365.6" width="1" height="7.1" fill="#d8443a"/>
<rect x="1454.00" y="368.1" width="5" height="2.6" fill="#e8473d"/>
<rect x="1464.00" y="365.2" width="1" height="5.5" fill="#249d65"/>
<rect x="1462.00" y="365.2" width="5" height="5.5" fill="#26a96c"/>
<rect x="1471.00" y="356.5" width="1" height="12.4" fill="#249d65"/>
<rect x="1469.00" y="358.9" width="5" height="10.0" fill="#26a96c"/>
<rect x="1478.00" y="356.1" width="1" height="9.5" fill="#d8443a"/>
<rect x="1476.00" y="358.9" width="5" height="2.5" fill="#e8473d"/>
<rect x="1486.00" y="356.5" width="1" height="19.0" fill="#d8443a"/>
<rect x="1484.00" y="360.3" width="5" height="10.4" fill="#e8473d"/>
<rect x="1493.00" y="360.8" width="1" height="15.2" fill="#d8443a"/>
<rect x="1491.00" y="370.7" width="5" height="5.3" fill="#e8473d"/>
<rect x="1500.00" y="347.0" width="1" height="28.2" fill="#249d65"/>
<rect x="1498.00" y="360.3" width="5" height="14.9" fill="#26a96c"/>
<rect x="1508.00" y="332.6" width="1" height="31.0" fill="#249d65"/>
<rect x="1506.00" y="335.1" width="5" height="26.3" fill="#26a96c"/>
<rect x="1515.00" y="317.7" width="1" height="17.7" fill="#888888"/>
<rect x="1513.00" y="332.4" width="5" height="1" fill="#9a9a9a"/>
</g>
<rect x="0" y="218" width="1605" height="1" fill="#3f8f55"/>
<polyline points="3.0,189.1 19.9,197.4 38.9,206.2 54.6,211.0 82.8,218.1 104.3,220.6 120.0,220.9 129.9,221.5 139.8,219.8 149.7,216.2 159.7,208.7 169.6,202.1 179.6,195.5 192.8,189.7 207.7,181.4 222.6,181.4 229.2,183.4 240.0,188.9 246.6,191.3 264.0,200.6 281.3,208.1 300.8,217.2 315.9,223.3 333.2,227.0 350.6,230.9 365.7,233.5 375.0,236.9 390.2,242.7 407.5,246.4 429.1,249.2 446.4,252.0 465.9,254.6 483.2,260.1 500.6,264.4 515.7,269.4 525.0,272.6 542.3,277.4 559.6,281.1 572.6,284.9 589.9,287.1 611.6,287.5 624.6,286.0 637.6,283.2 650.6,279.5 663.6,274.6 676.5,268.7 691.3,263.6 702.9,261.4 712.9,259.9 726.1,259.4 742.7,259.4 755.9,259.4 769.2,257.5 779.1,256.5 800.0,256.5 819.8,256.5 831.4,255.4 843.0,257.5 859.6,257.8 872.8,257.8 880.3,259.5 889.4,257.8 902.6,256.2 915.9,254.5 932.4,252.9 942.4,251.2 956.6,247.8 973.1,245.4 998.0,242.0 1026.1,236.3 1049.3,230.5 1065.9,228.0 1077.5,226.3 1095.7,226.6 1106.6,227.3 1123.1,229.8 1139.7,233.1 1156.3,238.1 1172.8,242.2 1189.4,246.0 1205.9,249.7 1222.5,253.8 1230.0,258.1 1238.2,263.9 1245.3,267.0 1253.4,271.1 1260.6,273.6 1274.8,279.2 1283.0,284.3 1293.2,288.9 1309.5,295.0 1319.7,297.6 1326.8,300.6 1342.1,304.7 1355.4,308.8 1362.5,309.8 1377.8,313.4 1398.1,316.4 1418.0,321.0 1437.9,325.5 1457.8,329.3 1477.6,332.6 1497.5,336.6 1507.4,337.4 1516.7,337.1" fill="none" stroke="#d6463a" stroke-width="1.0" stroke-linejoin="round" />
<polyline points="3.0,203.5 19.9,215.6 38.9,229.7 54.6,236.8 82.8,242.9 97.7,243.2 110.0,241.4 119.9,239.4 129.9,238.5 139.8,233.6 149.7,225.3 159.7,208.7 169.6,196.3 179.6,183.9 192.8,173.1 207.7,161.2 214.3,162.4 222.6,165.7 232.6,173.1 239.7,180.0 257.5,195.2 268.3,208.1 279.1,219.0 294.3,230.2 309.4,240.6 322.4,244.5 337.6,248.2 354.9,251.9 372.2,256.9 390.2,264.4 405.3,268.1 418.3,268.1 433.5,268.7 446.4,270.2 461.6,272.0 474.6,275.9 487.6,280.2 500.6,284.5 513.6,290.4 526.5,296.2 538.0,301.8 557.5,305.5 568.3,305.5 579.1,309.2 589.9,307.7 602.9,305.5 615.9,301.8 628.9,295.8 641.9,289.3 654.9,280.6 667.9,270.9 679.8,261.9 691.3,254.5 702.9,250.3 712.0,248.2 719.5,249.8 732.8,250.3 742.7,251.5 755.9,251.2 769.2,249.5 785.8,249.5 792.4,248.7 801.6,250.4 814.8,252.4 823.1,250.4 833.1,250.9 843.0,253.7 857.9,256.5 869.5,257.0 880.3,258.7 889.4,256.5 902.6,253.7 915.9,251.2 932.4,246.3 940.0,245.4 953.3,241.2 969.8,237.1 986.4,232.9 1002.9,230.5 1019.5,225.5 1036.1,221.3 1049.3,217.2 1062.6,214.4 1070.8,212.6 1082.4,212.7 1092.4,213.6 1099.9,214.6 1113.2,220.7 1129.7,226.5 1144.7,233.1 1159.6,241.4 1172.8,247.2 1182.8,252.7 1196.0,258.3 1209.3,262.9 1222.5,267.9 1230.0,274.4 1238.2,283.3 1250.4,290.4 1260.6,297.6 1267.7,301.1 1281.0,310.8 1289.5,318.1 1311.1,327.2 1321.0,328.4 1334.3,331.7 1347.5,336.3 1360.8,338.0 1378.3,339.6 1394.8,339.6 1411.4,342.9 1431.3,346.2 1451.1,350.7 1471.0,352.8 1485.9,354.5 1494.2,357.0 1502.5,357.0 1510.8,354.8 1516.7,353.3" fill="none" stroke="#2f6ea7" stroke-width="1.0" stroke-linejoin="round" />
<polyline points="3.0,300.5 24.8,299.2 46.4,299.2 66.2,298.4 100.0,296.8 119.3,294.2 129.0,294.2 138.7,291.8 152.2,289.3 162.9,285.5 177.4,282.1 191.9,278.7 206.4,274.8 220.9,272.9 230.6,273.2 237.4,272.6 260.0,272.6 268.3,273.1 294.3,274.2 385.0,274.2 396.6,274.8 440.0,274.8 465.9,275.6 487.6,276.3 513.6,277.8 535.0,279.1 546.6,280.2 564.0,281.1 572.6,282.8 589.9,282.8 624.6,282.4 641.9,280.6 663.6,278.5 681.4,276.3 711.2,274.8 732.8,274.3 755.9,274.3 772.5,273.0 800.0,272.2 823.1,271.9 843.0,271.4 889.4,271.4 899.3,270.3 915.9,270.3 932.4,268.6 950.0,267.3 973.1,266.1 1006.2,264.1 1039.4,261.1 1065.9,258.6 1089.1,257.0 1100.0,256.8 1123.1,256.6 1152.9,257.1 1172.8,258.0 1196.0,259.1 1215.9,260.0 1230.0,261.2 1238.2,263.6 1246.3,263.2 1260.6,265.0 1274.8,266.7 1283.0,268.5 1301.3,271.1 1326.8,274.1 1342.1,275.2 1357.4,277.2 1370.6,278.5 1377.8,278.5 1398.1,280.3 1431.3,284.9 1457.8,286.6 1480.9,289.5 1497.5,291.5 1516.7,292.4" fill="none" stroke="#ececec" stroke-width="1.35" stroke-linejoin="round" stroke-opacity="0.88"/>
<rect x="1605" y="209" width="47" height="18" rx="2.5" fill="#3f8f55"/>
<polyline points="2.8,556.3 10.1,559.5 17.4,564.5 24.7,568.9 32.0,571.5 39.3,573.8 46.6,568.4 53.9,570.6 61.3,567.3 68.6,565.2 75.9,563.4 83.2,566.0 90.5,567.3 97.8,570.4 105.1,548.7 112.4,552.6 119.7,559.1 127.0,545.5 134.4,554.3 141.7,535.3 149.0,515.8 156.3,489.8 163.6,469.9 170.9,481.1 178.2,490.2 185.5,502.8 192.8,512.5 200.1,508.9 207.5,515.4 214.8,531.0 222.1,543.5 229.4,551.5 236.7,560.2 244.0,565.6 251.3,569.3 258.6,572.1 265.9,576.4 273.2,572.5 280.6,574.3 287.9,576.4 295.2,573.8 302.5,575.4 309.8,576.4 317.1,563.4 324.4,565.2 331.7,554.3 339.0,549.4 346.3,550.9 353.7,553.7 361.0,550.4 368.3,554.3 375.6,556.9 382.9,559.8 390.2,562.4 397.5,564.5 404.8,549.4 412.1,545.5 419.4,536.4 426.8,543.5 434.1,547.2 441.4,552.6 448.7,557.6 456.0,555.4 463.3,555.4 470.6,562.4 477.9,567.3 485.2,563.0 492.5,569.9 499.9,573.8 507.2,561.3 514.5,565.6 521.8,568.4 529.1,561.3 536.4,565.2 543.7,538.5 551.0,555.9 558.3,565.6 565.6,562.4 573.0,570.6 580.3,578.2 587.6,565.6 594.9,571.0 602.2,561.3 609.5,563.9 616.8,558.7 624.1,553.7 631.4,536.4 638.7,540.1 646.1,544.4 653.4,539.6 660.7,532.7 668.0,522.7 675.3,520.6 682.6,523.4 689.9,526.0 697.2,533.8 704.5,536.4 711.8,540.7 719.2,546.8 726.5,550.4 733.8,552.6 741.1,554.3 748.4,550.9 755.7,546.1 763.0,528.1 770.3,531.4 777.6,534.2 784.9,542.9 792.3,550.4 799.6,557.6 806.9,562.4 814.2,564.5 821.5,540.1 828.8,534.2 836.1,541.8 843.4,551.5 850.7,558.7 858.0,562.4 865.4,548.3 872.7,554.8 880.0,563.0 887.3,542.4 894.6,544.4 901.9,553.7 909.2,548.3 916.5,552.0 923.8,549.4 931.1,553.0 938.5,540.7 945.8,547.2 953.1,549.4 960.4,552.2 967.7,555.9 975.0,560.8 982.3,559.8 989.6,563.4 996.9,560.6 1004.2,558.5 1011.6,546.5 1018.9,550.9 1026.2,552.6 1033.5,547.2 1040.8,532.0 1048.1,538.5 1055.4,546.1 1062.7,552.6 1070.0,557.6 1077.3,566.7 1084.7,574.3 1092.0,577.5 1099.3,580.8 1106.6,584.0 1113.9,589.4 1121.2,592.7 1128.5,590.1 1135.8,594.2 1143.1,597.0 1150.4,599.2 1157.8,602.0 1165.1,605.0 1172.4,593.8 1179.7,597.4 1187.0,591.2 1194.3,594.2 1201.6,590.5 1208.9,585.5 1216.2,587.7 1223.5,592.7 1230.9,598.5 1238.2,601.3 1245.5,569.9 1252.8,559.5 1260.1,565.0 1267.4,571.0 1274.7,571.0 1282.0,574.3 1289.3,579.0 1296.6,566.7 1304.0,569.3 1311.3,548.3 1318.6,552.0 1325.9,555.4 1333.2,556.5 1340.5,555.4 1347.8,558.7 1355.1,561.9 1362.4,563.9 1369.8,557.6 1377.1,559.1 1384.4,556.3 1391.7,557.4 1399.0,560.6 1406.3,567.8 1413.6,571.0 1420.9,572.8 1428.2,568.4 1435.5,571.7 1442.8,573.6 1450.2,571.0 1457.5,572.5 1464.8,573.6 1472.1,557.6 1479.4,561.3 1486.7,567.3 1494.0,571.7 1501.3,551.5 1508.6,536.4 1515.9,537.5" fill="none" stroke="#2d7649" stroke-width="1.05" stroke-linejoin="round" />
<polyline points="2.8,511.0 10.1,514.7 17.4,500.6 24.7,500.6 32.0,507.1 39.3,508.9 46.6,515.8 53.9,520.6 61.3,524.5 68.6,528.4 75.9,532.0 83.2,535.3 90.5,537.9 97.8,540.7 105.1,547.8 112.4,553.0 119.7,550.9 127.0,559.1 134.4,559.5 141.7,565.2 149.0,571.0 156.3,579.0 163.6,584.0 170.9,578.2 178.2,581.2 185.5,567.8 192.8,560.2 200.1,566.7 207.5,563.9 214.8,535.3 222.1,523.4 229.4,513.6 236.7,518.4 244.0,521.2 251.3,526.6 258.6,524.0 265.9,501.1 273.2,514.7 280.6,520.1 287.9,519.7 295.2,524.5 302.5,527.1 309.8,529.2 317.1,533.6 324.4,535.3 331.7,538.5 339.0,544.4 346.3,546.5 353.7,540.1 361.0,542.2 368.3,531.0 375.6,533.1 382.9,521.9 390.2,520.6 397.5,524.5 404.8,532.0 412.1,536.4 419.4,541.1 426.8,539.6 434.1,542.9 441.4,544.4 448.7,543.5 456.0,548.3 463.3,553.7 470.6,531.0 477.9,522.7 485.2,529.9 492.5,529.9 499.9,525.5 507.2,531.0 514.5,514.3 521.8,519.0 529.1,529.9 536.4,525.5 543.7,537.5 551.0,521.2 558.3,533.1 565.6,542.4 573.0,528.4 580.3,532.0 587.6,536.4 594.9,532.7 602.2,539.6 609.5,543.5 616.8,547.8 624.1,550.9 631.4,555.2 638.7,558.7 646.1,557.6 653.4,559.5 660.7,562.4 668.0,566.3 675.3,568.9 682.6,564.5 689.9,565.6 697.2,545.5 704.5,547.2 711.8,541.4 719.2,520.6 726.5,526.2 733.8,519.7 741.1,522.3 748.4,526.6 755.7,528.8 763.0,535.3 770.3,539.2 777.6,538.5 784.9,531.4 792.3,533.1 799.6,534.2 806.9,518.0 814.2,526.6 821.5,535.3 828.8,543.5 836.1,535.3 843.4,508.2 850.7,518.4 858.0,526.2 865.4,535.9 872.7,539.2 880.0,537.5 887.3,547.2 894.6,553.7 901.9,546.5 909.2,551.5 916.5,555.2 923.8,558.5 931.1,562.4 938.5,567.8 945.8,572.1 953.1,574.3 960.4,566.3 967.7,566.3 975.0,561.3 982.3,564.1 989.6,564.5 996.9,566.7 1004.2,569.3 1011.6,572.1 1018.9,571.0 1026.2,573.2 1033.5,574.9 1040.8,578.6 1048.1,577.1 1055.4,569.5 1062.7,573.8 1070.0,577.5 1077.3,555.4 1084.7,560.2 1092.0,563.9 1099.3,560.2 1106.6,531.0 1113.9,503.5 1121.2,514.7 1128.5,520.1 1135.8,496.3 1143.1,506.1 1150.4,511.5 1157.8,493.1 1165.1,497.4 1172.4,508.9 1179.7,506.1 1187.0,519.7 1194.3,527.7 1201.6,534.2 1208.9,539.6 1216.2,529.9 1223.5,505.0 1230.9,470.3 1238.2,450.4 1245.5,468.2 1252.8,484.4 1260.1,497.4 1267.4,484.4 1274.7,496.3 1282.0,482.2 1289.3,476.8 1296.6,483.3 1304.0,488.1 1311.3,498.0 1318.6,504.3 1325.9,498.5 1333.2,505.0 1340.5,508.9 1347.8,498.5 1355.1,502.2 1362.4,505.0 1369.8,511.0 1377.1,514.1 1384.4,516.2 1391.7,518.4 1399.0,514.7 1406.3,507.6 1413.6,506.1 1420.9,510.4 1428.2,518.0 1435.5,520.8 1442.8,516.2 1450.2,519.0 1457.5,513.6 1464.8,516.4 1472.1,522.3 1479.4,528.1 1486.7,518.4 1494.0,527.3 1501.3,540.7 1508.6,551.5 1515.9,552.6" fill="none" stroke="#c4463c" stroke-width="1.15" stroke-linejoin="round" />
<polyline points="2.8,489.4 10.1,492.4 17.4,492.4 24.7,491.5 32.0,491.3 39.3,489.4 46.6,490.9 53.9,492.0 61.3,494.1 68.6,497.0 75.9,500.2 83.2,503.2 90.5,506.3 97.8,509.3 105.1,516.9 112.4,525.5 119.7,531.0 127.0,535.7 134.4,540.7 141.7,541.4 149.0,538.5 156.3,532.0 163.6,523.4 170.9,515.8 178.2,508.2 185.5,506.1 192.8,506.7 200.1,506.7 207.5,507.1 214.8,514.7 222.1,520.1 229.4,522.3 236.7,523.2 244.0,523.2 251.3,523.2 258.6,521.2 265.9,517.3 273.2,515.4 280.6,513.2 287.9,510.4 295.2,510.4 302.5,509.3 309.8,508.7 317.1,511.0 324.4,514.1 331.7,519.0 339.0,526.6 346.3,533.1 353.7,537.5 361.0,542.2 368.3,544.4 375.6,546.1 382.9,546.1 390.2,545.2 397.5,544.4 404.8,547.2 412.1,551.5 419.4,555.9 426.8,560.2 434.1,563.9 441.4,567.8 448.7,569.9 456.0,572.8 463.3,576.4 470.6,575.4 477.9,571.5 485.2,569.3 492.5,565.6 499.9,561.3 507.2,560.2 514.5,556.5 521.8,553.7 529.1,553.3 536.4,551.5 543.7,557.4 551.0,556.3 558.3,555.4 565.6,557.4 573.0,553.7 580.3,550.4 587.6,550.0 594.9,548.3 602.2,549.8 609.5,551.5 616.8,555.4 624.1,560.2 631.4,561.3 638.7,563.0 646.1,564.7 653.4,565.6 660.7,564.5 668.0,561.9 675.3,558.7 682.6,556.3 689.9,554.1 697.2,558.0 704.5,561.3 711.8,565.6 719.2,566.3 726.5,566.3 733.8,565.2 741.1,564.1 748.4,565.2 755.7,567.8 763.0,571.0 770.3,574.3 777.6,577.5 784.9,579.0 792.3,579.7 799.6,578.2 806.9,574.7 814.2,571.5 821.5,575.4 828.8,577.5 836.1,580.8 843.4,577.5 850.7,574.7 858.0,571.7 865.4,574.3 872.7,575.8 880.0,574.7 887.3,577.5 894.6,579.7 901.9,582.3 909.2,584.0 916.5,586.6 923.8,587.7 931.1,589.4 938.5,586.6 945.8,584.0 953.1,582.3 960.4,581.8 967.7,582.9 975.0,585.5 982.3,588.3 989.6,589.9 996.9,590.9 1004.2,590.9 1011.6,588.3 1018.9,587.3 1026.2,585.5 1033.5,582.9 1040.8,577.5 1048.1,572.1 1055.4,571.0 1062.7,570.6 1070.0,569.9 1077.3,571.5 1084.7,572.5 1092.0,573.6 1099.3,572.8 1106.6,567.8 1113.9,558.0 1121.2,547.2 1128.5,538.5 1135.8,527.7 1143.1,516.9 1150.4,506.1 1157.8,495.2 1165.1,485.5 1172.4,477.9 1179.7,471.4 1187.0,467.7 1194.3,465.6 1201.6,464.3 1208.9,466.0 1216.2,464.9 1223.5,460.6 1230.9,451.9 1238.2,443.2 1245.5,443.2 1252.8,445.4 1260.1,448.0 1267.4,448.7 1274.7,450.2 1282.0,449.3 1289.3,446.9 1296.6,448.2 1304.0,449.3 1311.3,454.7 1318.6,460.1 1325.9,464.3 1333.2,468.2 1340.5,471.8 1347.8,474.7 1355.1,476.8 1362.4,478.5 1369.8,482.2 1377.1,485.5 1384.4,489.8 1391.7,492.6 1399.0,495.7 1406.3,495.2 1413.6,494.1 1420.9,493.1 1428.2,494.1 1435.5,494.1 1442.8,494.1 1450.2,494.1 1457.5,493.1 1464.8,493.1 1472.1,496.7 1479.4,500.6 1486.7,501.7 1494.0,501.7 1501.3,508.9 1508.6,514.7 1515.9,520.1" fill="none" stroke="#d0d0d0" stroke-width="1.25" stroke-linejoin="round" />
<g>
<rect x="0" y="696.8" width="5" height="2.6" fill="#26a96c"/>
<rect x="7" y="696.8" width="5" height="1.1" fill="#26a96c"/>
<rect x="14" y="696.8" width="5" height="1.5" fill="#e8473d"/>
<rect x="22" y="696.8" width="5" height="2.6" fill="#e8473d"/>
<rect x="29" y="696.8" width="5" height="0.9" fill="#26a96c"/>
<rect x="36" y="696.8" width="5" height="0.7" fill="#26a96c"/>
<rect x="44" y="694.2" width="5" height="2.6" fill="#26a96c"/>
<rect x="51" y="691.3" width="5" height="5.5" fill="#26a96c"/>
<rect x="58" y="688.5" width="5" height="8.4" fill="#26a96c"/>
<rect x="66" y="685.8" width="5" height="11.0" fill="#26a96c"/>
<rect x="73" y="684.1" width="5" height="12.8" fill="#26a96c"/>
<rect x="80" y="682.1" width="5" height="14.8" fill="#26a96c"/>
<rect x="88" y="681.2" width="5" height="15.6" fill="#26a96c"/>
<rect x="95" y="679.9" width="5" height="17.0" fill="#26a96c"/>
<rect x="102" y="676.6" width="5" height="20.3" fill="#26a96c"/>
<rect x="109" y="675.9" width="5" height="20.9" fill="#26a96c"/>
<rect x="117" y="675.9" width="5" height="20.9" fill="#26a96c"/>
<rect x="124" y="678.5" width="5" height="18.3" fill="#e8473d"/>
<rect x="131" y="675.9" width="5" height="20.9" fill="#26a96c"/>
<rect x="139" y="671.1" width="5" height="25.8" fill="#26a96c"/>
<rect x="146" y="666.6" width="5" height="30.2" fill="#26a96c"/>
<rect x="153" y="655.6" width="5" height="41.2" fill="#26a96c"/>
<rect x="161" y="651.0" width="5" height="45.8" fill="#26a96c"/>
<rect x="168" y="651.9" width="5" height="45.0" fill="#e8473d"/>
<rect x="175" y="651.9" width="5" height="45.0" fill="#26a96c"/>
<rect x="183" y="660.0" width="5" height="36.8" fill="#e8473d"/>
<rect x="190" y="668.2" width="5" height="28.6" fill="#e8473d"/>
<rect x="197" y="673.0" width="5" height="23.8" fill="#e8473d"/>
<rect x="204" y="677.4" width="5" height="19.4" fill="#e8473d"/>
<rect x="212" y="692.9" width="5" height="4.0" fill="#e8473d"/>
<rect x="219" y="696.8" width="5" height="9.3" fill="#e8473d"/>
<rect x="226" y="696.8" width="5" height="23.1" fill="#e8473d"/>
<rect x="234" y="696.8" width="5" height="34.2" fill="#e8473d"/>
<rect x="241" y="696.8" width="5" height="39.2" fill="#e8473d"/>
<rect x="248" y="696.8" width="5" height="42.3" fill="#e8473d"/>
<rect x="256" y="696.8" width="5" height="45.8" fill="#e8473d"/>
<rect x="263" y="696.8" width="5" height="50.0" fill="#e8473d"/>
<rect x="270" y="696.8" width="5" height="44.1" fill="#26a96c"/>
<rect x="278" y="696.8" width="5" height="41.4" fill="#26a96c"/>
<rect x="285" y="696.8" width="5" height="34.8" fill="#26a96c"/>
<rect x="292" y="696.8" width="5" height="31.3" fill="#26a96c"/>
<rect x="299" y="696.8" width="5" height="26.4" fill="#26a96c"/>
<rect x="307" y="696.8" width="5" height="21.4" fill="#26a96c"/>
<rect x="314" y="696.8" width="5" height="12.8" fill="#26a96c"/>
<rect x="321" y="696.8" width="5" height="7.3" fill="#26a96c"/>
<rect x="329" y="696.8" width="5" height="1.1" fill="#26a96c"/>
<rect x="336" y="695.3" width="5" height="1.5" fill="#26a96c"/>
<rect x="343" y="693.1" width="5" height="3.7" fill="#26a96c"/>
<rect x="351" y="690.9" width="5" height="5.9" fill="#26a96c"/>
<rect x="358" y="689.8" width="5" height="7.1" fill="#26a96c"/>
<rect x="365" y="690.9" width="5" height="5.9" fill="#e8473d"/>
<rect x="373" y="693.1" width="5" height="3.7" fill="#e8473d"/>
<rect x="380" y="694.0" width="5" height="2.9" fill="#e8473d"/>
<rect x="387" y="696.8" width="5" height="0.9" fill="#e8473d"/>
<rect x="395" y="696.8" width="5" height="0.9" fill="#e8473d"/>
<rect x="402" y="695.1" width="5" height="1.8" fill="#26a96c"/>
<rect x="409" y="691.8" width="5" height="5.1" fill="#26a96c"/>
<rect x="416" y="688.5" width="5" height="8.4" fill="#26a96c"/>
<rect x="424" y="687.6" width="5" height="9.3" fill="#26a96c"/>
<rect x="431" y="687.6" width="5" height="9.3" fill="#26a96c"/>
<rect x="438" y="688.5" width="5" height="8.4" fill="#e8473d"/>
<rect x="446" y="689.8" width="5" height="7.1" fill="#e8473d"/>
<rect x="453" y="690.2" width="5" height="6.6" fill="#e8473d"/>
<rect x="460" y="692.0" width="5" height="4.8" fill="#e8473d"/>
<rect x="468" y="696.0" width="5" height="1.1" fill="#e8473d"/>
<rect x="475" y="696.8" width="5" height="1.5" fill="#e8473d"/>
<rect x="482" y="696.8" width="5" height="1.1" fill="#26a96c"/>
<rect x="490" y="696.8" width="5" height="4.4" fill="#e8473d"/>
<rect x="497" y="696.8" width="5" height="5.5" fill="#e8473d"/>
<rect x="504" y="696.8" width="5" height="4.4" fill="#26a96c"/>
<rect x="511" y="696.8" width="5" height="7.1" fill="#e8473d"/>
<rect x="519" y="696.8" width="5" height="6.2" fill="#26a96c"/>
<rect x="526" y="696.8" width="5" height="7.1" fill="#e8473d"/>
<rect x="533" y="696.8" width="5" height="7.1" fill="#e8473d"/>
<rect x="541" y="696.8" width="5" height="1.8" fill="#26a96c"/>
<rect x="548" y="696.8" width="5" height="1.5" fill="#26a96c"/>
<rect x="555" y="696.0" width="5" height="1.1" fill="#26a96c"/>
<rect x="563" y="690.9" width="5" height="5.9" fill="#26a96c"/>
<rect x="570" y="696.8" width="5" height="1.1" fill="#e8473d"/>
<rect x="577" y="695.3" width="5" height="1.5" fill="#26a96c"/>
<rect x="585" y="689.6" width="5" height="7.3" fill="#26a96c"/>
<rect x="592" y="687.6" width="5" height="9.3" fill="#26a96c"/>
<rect x="599" y="684.7" width="5" height="12.1" fill="#26a96c"/>
<rect x="607" y="684.7" width="5" height="12.1" fill="#26a96c"/>
<rect x="614" y="682.1" width="5" height="14.8" fill="#26a96c"/>
<rect x="621" y="679.9" width="5" height="17.0" fill="#26a96c"/>
<rect x="628" y="676.6" width="5" height="20.3" fill="#26a96c"/>
<rect x="636" y="676.6" width="5" height="20.3" fill="#e8473d"/>
<rect x="643" y="675.9" width="5" height="20.9" fill="#26a96c"/>
<rect x="650" y="675.9" width="5" height="20.9" fill="#e8473d"/>
<rect x="658" y="675.9" width="5" height="20.9" fill="#e8473d"/>
<rect x="665" y="674.1" width="5" height="22.7" fill="#26a96c"/>
<rect x="672" y="675.2" width="5" height="21.6" fill="#e8473d"/>
<rect x="680" y="676.6" width="5" height="20.3" fill="#e8473d"/>
<rect x="687" y="679.2" width="5" height="17.6" fill="#e8473d"/>
<rect x="694" y="686.9" width="5" height="9.9" fill="#e8473d"/>
<rect x="702" y="691.3" width="5" height="5.5" fill="#e8473d"/>
<rect x="709" y="695.7" width="5" height="1.1" fill="#e8473d"/>
<rect x="716" y="696.8" width="5" height="5.5" fill="#e8473d"/>
<rect x="723" y="696.8" width="5" height="10.4" fill="#e8473d"/>
<rect x="731" y="696.8" width="5" height="13.2" fill="#e8473d"/>
<rect x="738" y="696.8" width="5" height="15.0" fill="#e8473d"/>
<rect x="745" y="696.8" width="5" height="13.9" fill="#26a96c"/>
<rect x="753" y="696.8" width="5" height="12.8" fill="#26a96c"/>
<rect x="760" y="696.8" width="5" height="11.0" fill="#26a96c"/>
<rect x="767" y="696.8" width="5" height="9.3" fill="#26a96c"/>
<rect x="775" y="696.8" width="5" height="8.2" fill="#26a96c"/>
<rect x="782" y="696.8" width="5" height="8.2" fill="#e8473d"/>
<rect x="789" y="696.8" width="5" height="7.3" fill="#26a96c"/>
<rect x="797" y="696.8" width="5" height="9.3" fill="#e8473d"/>
<rect x="804" y="696.8" width="5" height="10.4" fill="#e8473d"/>
<rect x="811" y="696.8" width="5" height="9.3" fill="#26a96c"/>
<rect x="818" y="696.8" width="5" height="5.5" fill="#26a96c"/>
<rect x="826" y="696.8" width="5" height="4.4" fill="#26a96c"/>
<rect x="833" y="696.8" width="5" height="5.5" fill="#e8473d"/>
<rect x="840" y="696.8" width="5" height="9.3" fill="#e8473d"/>
<rect x="848" y="696.8" width="5" height="8.2" fill="#26a96c"/>
<rect x="855" y="696.8" width="5" height="9.3" fill="#e8473d"/>
<rect x="862" y="696.8" width="5" height="6.2" fill="#26a96c"/>
<rect x="870" y="696.8" width="5" height="7.1" fill="#e8473d"/>
<rect x="877" y="696.8" width="5" height="4.8" fill="#26a96c"/>
<rect x="884" y="696.8" width="5" height="0.9" fill="#26a96c"/>
<rect x="892" y="694.2" width="5" height="2.6" fill="#26a96c"/>
<rect x="899" y="693.1" width="5" height="3.7" fill="#26a96c"/>
<rect x="906" y="692.4" width="5" height="4.4" fill="#26a96c"/>
<rect x="914" y="690.9" width="5" height="5.9" fill="#26a96c"/>
<rect x="921" y="691.8" width="5" height="5.1" fill="#26a96c"/>
<rect x="928" y="690.2" width="5" height="6.6" fill="#26a96c"/>
<rect x="935" y="690.9" width="5" height="5.9" fill="#e8473d"/>
<rect x="943" y="689.1" width="5" height="7.7" fill="#26a96c"/>
<rect x="950" y="689.1" width="5" height="7.7" fill="#e8473d"/>
<rect x="957" y="691.3" width="5" height="5.5" fill="#e8473d"/>
<rect x="965" y="691.3" width="5" height="5.5" fill="#e8473d"/>
<rect x="972" y="693.1" width="5" height="3.7" fill="#e8473d"/>
<rect x="979" y="694.0" width="5" height="2.9" fill="#e8473d"/>
<rect x="987" y="694.0" width="5" height="2.9" fill="#e8473d"/>
<rect x="994" y="695.1" width="5" height="1.8" fill="#e8473d"/>
<rect x="1001" y="695.1" width="5" height="1.8" fill="#e8473d"/>
<rect x="1009" y="694.0" width="5" height="2.9" fill="#26a96c"/>
<rect x="1016" y="695.1" width="5" height="1.8" fill="#e8473d"/>
<rect x="1023" y="696.0" width="5" height="1.1" fill="#e8473d"/>
<rect x="1030" y="696.0" width="5" height="1.1" fill="#26a96c"/>
<rect x="1038" y="694.0" width="5" height="2.9" fill="#26a96c"/>
<rect x="1045" y="695.1" width="5" height="1.8" fill="#e8473d"/>
<rect x="1052" y="696.8" width="5" height="0.9" fill="#e8473d"/>
<rect x="1060" y="696.8" width="5" height="0.9" fill="#26a96c"/>
<rect x="1067" y="696.8" width="5" height="0.9" fill="#e8473d"/>
<rect x="1074" y="696.8" width="5" height="1.8" fill="#e8473d"/>
<rect x="1082" y="696.8" width="5" height="5.5" fill="#e8473d"/>
<rect x="1089" y="696.8" width="5" height="7.3" fill="#e8473d"/>
<rect x="1096" y="696.8" width="5" height="10.4" fill="#e8473d"/>
<rect x="1104" y="696.8" width="5" height="13.9" fill="#e8473d"/>
<rect x="1111" y="696.8" width="5" height="17.2" fill="#e8473d"/>
<rect x="1118" y="696.8" width="5" height="17.2" fill="#26a96c"/>
<rect x="1126" y="696.8" width="5" height="17.2" fill="#e8473d"/>
<rect x="1133" y="696.8" width="5" height="19.2" fill="#e8473d"/>
<rect x="1140" y="696.8" width="5" height="18.3" fill="#26a96c"/>
<rect x="1147" y="696.8" width="5" height="17.2" fill="#26a96c"/>
<rect x="1155" y="696.8" width="5" height="19.2" fill="#e8473d"/>
<rect x="1162" y="696.8" width="5" height="18.3" fill="#26a96c"/>
<rect x="1169" y="696.8" width="5" height="15.4" fill="#26a96c"/>
<rect x="1177" y="696.8" width="5" height="14.8" fill="#26a96c"/>
<rect x="1184" y="696.8" width="5" height="12.1" fill="#26a96c"/>
<rect x="1191" y="696.8" width="5" height="10.4" fill="#26a96c"/>
<rect x="1199" y="696.8" width="5" height="6.2" fill="#26a96c"/>
<rect x="1206" y="696.8" width="5" height="3.7" fill="#26a96c"/>
<rect x="1213" y="696.8" width="5" height="2.9" fill="#26a96c"/>
<rect x="1221" y="696.8" width="5" height="5.5" fill="#e8473d"/>
<rect x="1228" y="696.8" width="5" height="12.8" fill="#e8473d"/>
<rect x="1235" y="696.8" width="5" height="16.5" fill="#e8473d"/>
<rect x="1242" y="696.8" width="5" height="13.9" fill="#26a96c"/>
<rect x="1250" y="696.8" width="5" height="12.8" fill="#26a96c"/>
<rect x="1257" y="696.8" width="5" height="11.0" fill="#26a96c"/>
<rect x="1264" y="696.8" width="5" height="9.3" fill="#26a96c"/>
<rect x="1272" y="696.8" width="5" height="8.2" fill="#26a96c"/>
<rect x="1279" y="696.8" width="5" height="10.4" fill="#e8473d"/>
<rect x="1286" y="696.8" width="5" height="8.2" fill="#26a96c"/>
<rect x="1294" y="696.8" width="5" height="4.4" fill="#26a96c"/>
<rect x="1301" y="696.8" width="5" height="1.8" fill="#26a96c"/>
<rect x="1308" y="695.3" width="5" height="1.5" fill="#26a96c"/>
<rect x="1316" y="690.9" width="5" height="5.9" fill="#26a96c"/>
<rect x="1323" y="690.9" width="5" height="5.9" fill="#26a96c"/>
<rect x="1330" y="688.5" width="5" height="8.4" fill="#26a96c"/>
<rect x="1338" y="687.6" width="5" height="9.3" fill="#26a96c"/>
<rect x="1345" y="688.5" width="5" height="8.4" fill="#e8473d"/>
<rect x="1352" y="688.5" width="5" height="8.4" fill="#26a96c"/>
<rect x="1359" y="687.6" width="5" height="9.3" fill="#26a96c"/>
<rect x="1367" y="686.9" width="5" height="9.9" fill="#26a96c"/>
<rect x="1374" y="686.9" width="5" height="9.9" fill="#26a96c"/>
<rect x="1381" y="685.8" width="5" height="11.0" fill="#26a96c"/>
<rect x="1389" y="685.8" width="5" height="11.0" fill="#26a96c"/>
<rect x="1396" y="686.9" width="5" height="9.9" fill="#e8473d"/>
<rect x="1403" y="688.5" width="5" height="8.4" fill="#e8473d"/>
<rect x="1411" y="691.3" width="5" height="5.5" fill="#e8473d"/>
<rect x="1418" y="692.0" width="5" height="4.8" fill="#e8473d"/>
<rect x="1425" y="693.1" width="5" height="3.7" fill="#e8473d"/>
<rect x="1433" y="695.1" width="5" height="1.8" fill="#e8473d"/>
<rect x="1440" y="696.0" width="5" height="1.1" fill="#e8473d"/>
<rect x="1447" y="696.8" width="5" height="0.9" fill="#e8473d"/>
<rect x="1454" y="696.8" width="5" height="0.9" fill="#e8473d"/>
<rect x="1462" y="696.8" width="5" height="0.9" fill="#26a96c"/>
<rect x="1469" y="695.3" width="5" height="1.5" fill="#26a96c"/>
<rect x="1476" y="695.3" width="5" height="1.5" fill="#26a96c"/>
<rect x="1484" y="696.0" width="5" height="1.1" fill="#e8473d"/>
<rect x="1491" y="696.8" width="5" height="0.9" fill="#e8473d"/>
<rect x="1498" y="696.0" width="5" height="1.1" fill="#26a96c"/>
<rect x="1506" y="691.3" width="5" height="5.5" fill="#26a96c"/>
<rect x="1513" y="688.5" width="5" height="8.4" fill="#26a96c"/>
</g>
<polyline points="2.8,776.2 10.1,773.8 17.4,776.6 24.7,777.6 32.0,775.8 39.3,774.8 46.6,769.9 53.9,765.0 61.3,759.6 68.6,754.1 75.9,748.9 83.2,743.7 90.5,738.5 97.8,733.1 105.1,724.7 112.4,717.9 119.7,711.6 127.0,709.9 134.4,702.0 141.7,692.2 149.0,678.6 156.3,657.0 163.6,639.9 170.9,629.0 178.2,618.3 185.5,616.1 192.8,617.2 200.1,616.0 207.5,615.6 214.8,629.3 222.1,647.7 229.4,665.0 236.7,684.2 244.0,698.8 251.3,712.2 258.6,726.4 265.9,741.6 273.2,749.7 280.6,755.7 287.9,758.7 295.2,762.1 302.5,764.2 309.8,763.3 317.1,759.4 324.4,754.6 331.7,748.7 339.0,743.6 346.3,741.0 353.7,738.0 361.0,734.6 368.3,734.4 375.6,733.3 382.9,734.5 390.2,736.0 397.5,736.8 404.8,733.1 412.1,729.1 419.4,723.3 426.8,720.0 434.1,718.2 441.4,716.2 448.7,715.1 456.0,714.2 463.3,714.5 470.6,717.3 477.9,720.6 485.2,720.0 492.5,723.9 499.9,726.6 507.2,728.4 514.5,731.7 521.8,733.2 529.1,735.8 536.4,738.0 543.7,732.8 551.0,732.1 558.3,727.2 565.6,721.1 573.0,728.1 580.3,724.4 587.6,717.3 594.9,712.3 602.2,706.3 609.5,702.3 616.8,696.8 624.1,689.6 631.4,682.5 638.7,674.8 646.1,668.2 653.4,662.2 660.7,658.3 668.0,650.6 675.3,645.1 682.6,641.3 689.9,640.2 697.2,644.0 704.5,647.7 711.8,651.7 719.2,659.4 726.5,666.0 733.8,672.6 741.1,677.7 748.4,680.3 755.7,682.1 763.0,683.2 770.3,683.2 777.6,684.7 784.9,686.9 792.3,687.4 799.6,690.9 806.9,694.0 814.2,695.7 821.5,693.5 828.8,693.5 836.1,695.7 843.4,701.2 850.7,702.3 858.0,706.3 865.4,704.6 872.7,706.3 880.0,706.3 887.3,702.3 894.6,696.8 901.9,694.6 909.2,692.4 916.5,689.1 923.8,686.9 931.1,684.3 938.5,683.2 945.8,678.8 953.1,677.0 960.4,677.7 967.7,676.3 975.0,676.3 982.3,676.3 989.6,675.5 996.9,675.5 1004.2,674.4 1011.6,673.3 1018.9,673.3 1026.2,673.3 1033.5,671.9 1040.8,669.3 1048.1,669.3 1055.4,671.1 1062.7,671.5 1070.0,671.9 1077.3,675.9 1084.7,680.8 1092.0,684.7 1099.3,689.1 1106.6,695.3 1113.9,702.8 1121.2,706.3 1128.5,710.7 1135.8,717.3 1143.1,721.1 1150.4,724.4 1157.8,730.3 1165.1,733.9 1172.4,734.3 1179.7,738.0 1187.0,738.7 1194.3,739.4 1201.6,736.5 1208.9,734.7 1216.2,734.3 1223.5,738.3 1230.9,748.6 1238.2,756.3 1245.5,757.4 1252.8,759.2 1260.1,760.3 1267.4,760.3 1274.7,761.4 1282.0,765.6 1289.3,765.6 1296.6,764.0 1304.0,760.7 1311.3,755.9 1318.6,750.4 1325.9,748.2 1333.2,743.1 1340.5,739.4 1347.8,738.3 1355.1,735.4 1362.4,732.1 1369.8,729.5 1377.1,725.9 1384.4,722.2 1391.7,719.3 1399.0,716.2 1406.3,716.2 1413.6,717.3 1420.9,717.3 1428.2,716.2 1435.5,717.3 1442.8,717.8 1450.2,718.9 1457.5,718.4 1464.8,717.3 1472.1,715.1 1479.4,713.4 1486.7,714.5 1494.0,715.1 1501.3,713.4 1508.6,707.2 1515.9,701.7" fill="none" stroke="#66a0bf" stroke-width="0.95" stroke-linejoin="round" />
<polyline points="2.8,774.0 10.1,774.2 17.4,774.7 24.7,774.8 32.0,775.7 39.3,776.1 46.6,774.5 53.9,772.5 61.3,770.2 68.6,766.5 75.9,763.1 83.2,759.5 90.5,755.5 97.8,751.8 105.1,746.4 112.4,740.9 119.7,735.4 127.0,729.9 134.4,724.4 141.7,718.0 149.0,709.1 156.3,698.9 163.6,686.0 170.9,673.0 178.2,662.5 185.5,654.5 192.8,647.1 200.1,641.2 207.5,636.2 214.8,634.9 222.1,636.6 229.4,642.9 236.7,650.4 244.0,659.1 251.3,668.8 258.6,680.6 265.9,694.3 273.2,706.6 280.6,716.9 287.9,725.7 295.2,732.6 302.5,738.4 309.8,742.8 317.1,745.9 324.4,748.2 331.7,748.4 339.0,747.8 346.3,746.7 353.7,744.8 361.0,743.0 368.3,741.2 375.6,739.5 382.9,738.4 390.2,738.2 397.5,738.0 404.8,736.8 412.1,734.9 419.4,732.5 426.8,730.6 434.1,728.1 441.4,725.5 448.7,723.3 456.0,721.5 463.3,720.0 470.6,720.0 477.9,720.0 485.2,720.0 492.5,720.6 499.9,721.7 507.2,723.7 514.5,724.8 521.8,726.6 529.1,728.4 536.4,730.3 543.7,730.6 551.0,731.0 558.3,730.3 565.6,728.4 573.0,728.4 580.3,727.2 587.6,725.5 594.9,722.8 602.2,720.0 609.5,716.2 616.8,712.3 624.1,707.9 631.4,702.3 638.7,696.8 646.1,691.3 653.4,685.8 660.7,679.9 668.0,674.1 675.3,668.2 682.6,663.1 689.9,658.3 697.2,655.0 704.5,653.9 711.8,653.2 719.2,654.5 726.5,656.5 733.8,660.0 741.1,663.8 748.4,667.1 755.7,669.7 763.0,672.6 770.3,675.5 777.6,677.4 784.9,679.7 792.3,681.4 799.6,683.6 806.9,685.8 814.2,687.4 821.5,688.7 828.8,689.6 836.1,690.7 843.4,692.9 850.7,695.1 858.0,697.3 865.4,698.6 872.7,700.1 880.0,701.2 887.3,701.2 894.6,700.1 901.9,699.3 909.2,698.4 916.5,696.8 923.8,695.1 931.1,693.1 938.5,691.3 945.8,689.1 953.1,687.4 960.4,685.8 967.7,683.6 975.0,682.1 982.3,680.8 989.6,679.7 996.9,678.5 1004.2,677.4 1011.6,676.3 1018.9,675.5 1026.2,674.8 1033.5,674.4 1040.8,673.3 1048.1,673.0 1055.4,671.9 1062.7,671.9 1070.0,671.9 1077.3,673.0 1084.7,674.4 1092.0,676.3 1099.3,678.8 1106.6,682.5 1113.9,686.5 1121.2,689.6 1128.5,694.0 1135.8,699.0 1143.1,703.4 1150.4,707.9 1157.8,712.3 1165.1,716.7 1172.4,720.4 1179.7,723.9 1187.0,727.2 1194.3,729.2 1201.6,731.0 1208.9,732.1 1216.2,732.1 1223.5,733.9 1230.9,736.9 1238.2,740.5 1245.5,743.8 1252.8,747.1 1260.1,749.3 1267.4,751.9 1274.7,753.7 1282.0,755.9 1289.3,758.5 1296.6,759.2 1304.0,759.6 1311.3,758.5 1318.6,756.8 1325.9,754.8 1333.2,753.0 1340.5,750.4 1347.8,747.5 1355.1,745.3 1362.4,742.7 1369.8,739.8 1377.1,737.2 1384.4,733.6 1391.7,731.0 1399.0,728.1 1406.3,725.5 1413.6,723.7 1420.9,722.6 1428.2,721.1 1435.5,720.4 1442.8,720.0 1450.2,719.3 1457.5,719.3 1464.8,719.3 1472.1,718.4 1479.4,717.3 1486.7,716.7 1494.0,716.2 1501.3,715.1 1508.6,713.4 1515.9,711.8" fill="none" stroke="#cccccc" stroke-width="1.05" stroke-linejoin="round" />
<path d="M1637.2 439.2 L1645 447.2 M1645 439.2 L1637.2 447.2" stroke="#9a9a9a" stroke-width="1" fill="none"/>
<path d="M1637.2 612.1 L1645 620.1 M1645 612.1 L1637.2 620.1" stroke="#9a9a9a" stroke-width="1" fill="none"/>
<rect x="9" y="12" width="114" height="18" rx="2" fill="#555555"/>
<rect x="63" y="17" width="7" height="7" fill="#868686"/>
<rect x="138.5" y="12.5" width="16" height="17" rx="3.2" fill="none" stroke="#585858" stroke-width="1"/>
<rect x="161.5" y="12.5" width="16" height="17" rx="3.2" fill="none" stroke="#585858" stroke-width="1"/>
<path d="M203 12.5 H196.5 a3 3 0 0 0 -3 3 V26.5 a3 3 0 0 0 3 3 H206.5 a3 3 0 0 0 3 -3 V18.8" fill="none" stroke="#585858" stroke-width="1"/>
<rect x="215.9" y="12.5" width="16.3" height="17" rx="3.2" fill="none" stroke="#585858" stroke-width="1"/>
<rect x="238.7" y="12.5" width="16.3" height="17" rx="3.2" fill="none" stroke="#585858" stroke-width="1"/>
<rect x="261.5" y="12.5" width="16.3" height="17" rx="3.2" fill="none" stroke="#585858" stroke-width="1"/>
<rect x="283.7" y="12.5" width="16.3" height="17" rx="3.2" fill="none" stroke="#585858" stroke-width="1"/>
<rect x="305.7" y="12.5" width="16.3" height="17" rx="3.2" fill="none" stroke="#585858" stroke-width="1"/>
<rect x="328.7" y="12.5" width="16.3" height="17" rx="3.2" fill="none" stroke="#585858" stroke-width="1"/>
<g fill="none" stroke="#8e8e8e" stroke-width="1.1"><circle cx="145.6" cy="20.1" r="3.9"/><path d="M148.5 22.9 L152 26.1"/><circle cx="168.4" cy="20.1" r="3.9"/><path d="M171.3 22.9 L174.8 26.1"/></g>
<rect x="144" y="19.6" width="3.2" height="1.1" fill="#8e8e8e"/>
<path d="M168.4 18.2 L169.5 20.1 L168.4 22 L167.3 20.1 Z" fill="#8e8e8e"/>
<g stroke="#8e8e8e" stroke-width="1" fill="none"><path d="M220.5 16.9V19.6M220.5 24.2V27"/><ellipse cx="220.5" cy="21.9" rx="1.2" ry="2.3"/><path d="M224.4 15V16.9M224.4 20.9V24"/><ellipse cx="224.4" cy="18.9" rx="1.2" ry="2"/><path d="M227.8 17.9V26"/></g>
<ellipse cx="227.8" cy="22.6" rx="1.5" ry="1.8" fill="#8e8e8e"/>
<g stroke="#8e8e8e" stroke-width="1" fill="none"><path d="M242 17.4H252M242 24.6H252"/><path d="M242 21.1H252" stroke-width="1.6"/></g>
<g fill="#8e8e8e"><path d="M247.2 16 L248.2 17.4 L247.2 18.8 L246 17.4Z"/><path d="M249 19.6 L251.6 21.1 L249 22.6Z"/><path d="M245.4 23.2 L246.4 24.6 L245.4 26 L244.2 24.6Z"/></g>
<g stroke="#8e8e8e" stroke-width="1.1" fill="none"><path d="M269.6 16.4H265.5V25.5H272.2M274.8 23.3V20.6M274.8 19V16.4H271.2"/><path d="M265.3 21.9L267.5 19.9L269.2 21.8L273.4 17.5" stroke-width="1"/></g>
<rect x="272.8" y="23.8" width="2.6" height="2.3" fill="#8e8e8e"/>
<g stroke="#8e8e8e" stroke-width="1" fill="#2a2a2a"><rect x="291.5" y="19.8" width="4.2" height="6"/><rect x="289.8" y="18" width="4.2" height="5.6"/><rect x="288.1" y="16.3" width="4.2" height="5.6"/></g>
<g stroke="#8e8e8e" stroke-width="1.1" fill="none"><path d="M312.2 16.6H309.6V25.4H318.4V22.4"/><path d="M312.6 22.6 L317.4 17.2 L319 18.7 L314.2 24 L312.2 24.4 Z"/></g>
<g stroke="#8e8e8e" stroke-width="1" fill="none"><path d="M331.4 25.4H342"/><path d="M332.8 22.6 L338.8 16.8 L341 19 L335.4 24.4Z"/></g>
<path d="M332.8 22.6 L335.8 19.8 L338 22 L335.4 24.4Z" fill="#8e8e8e"/>
<text x="1612.5" y="221.8" font-size="10px" fill="#ffffff">1.1280</text>
<text x="6.5" y="453.3" font-size="10px" fill="#e4e4e4" stroke="#e4e4e4" stroke-width="0.2" textLength="243.5" lengthAdjust="spacingAndGlyphs">Average Directional Index ( 14, 14 ) 26.31, 22.08, 18.45</text>
<text x="6.5" y="626.2" font-size="10px" fill="#e4e4e4" stroke="#e4e4e4" stroke-width="0.2" textLength="206" lengthAdjust="spacingAndGlyphs">MACD ( 12, 26, 9 ) 0.00020, -0.00029, -0.00009</text>
<text x="15" y="25" font-size="10px" fill="#eeeeee" stroke="#eeeeee" stroke-width="0.25" textLength="30.7" lengthAdjust="spacingAndGlyphs">1.1232</text>
<text x="87" y="25" font-size="10px" fill="#eeeeee" stroke="#eeeeee" stroke-width="0.25" textLength="31" lengthAdjust="spacingAndGlyphs">1.1236</text>
</svg>
<svg width="1654" height="785" viewBox="0 0 1654 785" style="position:absolute;left:0;top:0;display:block;will-change:transform;text-rendering:geometricPrecision;font-family:'Liberation Sans',sans-serif"><defs><clipPath id="c84"><rect x="1606" y="190" width="48" height="19"/></clipPath></defs>
<g font-size="9px" fill="#7e7e7e">
<text transform="translate(1610.80,31.60) scale(0.9,1)" font-size="10px">1.1360</text>
<text transform="translate(1610.80,61.60) scale(0.9,1)" font-size="10px">1.1347</text>
<text transform="translate(1610.80,91.60) scale(0.9,1)" font-size="10px">1.1335</text>
<text transform="translate(1610.80,121.60) scale(0.9,1)" font-size="10px">1.1322</text>
<text transform="translate(1610.80,151.60) scale(0.9,1)" font-size="10px">1.1310</text>
<text transform="translate(1610.80,181.60) scale(0.9,1)" font-size="10px">1.1297</text>
<g clip-path="url(#c84)"><text transform="translate(1610.80,211.60) scale(0.9,1)" font-size="10px">1.1284</text></g>
<text transform="translate(1610.80,241.60) scale(0.9,1)" font-size="10px">1.1272</text>
<text transform="translate(1610.80,271.60) scale(0.9,1)" font-size="10px">1.1259</text>
<text transform="translate(1610.80,301.60) scale(0.9,1)" font-size="10px">1.1246</text>
<text transform="translate(1610.80,331.60) scale(0.9,1)" font-size="10px">1.1234</text>
<text transform="translate(1610.80,361.60) scale(0.9,1)" font-size="10px">1.1221</text>
<text transform="translate(1610.80,391.60) scale(0.9,1)" font-size="10px">1.1208</text>
<text transform="translate(1610.80,469.70) scale(0.9,1)" font-size="10px">39.36</text>
<text transform="translate(1610.80,498.50) scale(0.9,1)" font-size="10px">32.42</text>
<text transform="translate(1610.80,527.10) scale(0.9,1)" font-size="10px">25.48</text>
<text transform="translate(1610.80,555.70) scale(0.9,1)" font-size="10px">18.54</text>
<text transform="translate(1610.80,584.30) scale(0.9,1)" font-size="10px">11.61</text>
<text transform="translate(1610.30,642.30) scale(0.9,1)" font-size="10px">0.00117</text>
<text transform="translate(1610.30,671.10) scale(0.9,1)" font-size="10px">0.00059</text>
<text transform="translate(1610.30,699.80) scale(0.9,1)" font-size="10px">0.00002</text>
<text transform="translate(1610.30,728.60) scale(0.9,1)" font-size="10px">-0.00055</text>
<text transform="translate(1610.30,757.50) scale(0.9,1)" font-size="10px">-0.00113</text>
<text transform="translate(2.40,431.20) scale(0.9,1)" font-size="10px">16 Oct 2014</text>
<text transform="translate(120.00,431.20) scale(0.9,1)" font-size="10px">10:00</text>
<text transform="translate(178.50,431.20) scale(0.9,1)" font-size="10px">14:00</text>
<text transform="translate(237.00,431.20) scale(0.9,1)" font-size="10px">18:00</text>
<text transform="translate(295.50,431.20) scale(0.9,1)" font-size="10px">22:00</text>
<text transform="translate(354.00,431.20) scale(0.9,1)" font-size="10px">17. Oct</text>
<text transform="translate(412.50,431.20) scale(0.9,1)" font-size="10px">06:00</text>
<text transform="translate(471.00,431.20) scale(0.9,1)" font-size="10px">10:00</text>
<text transform="translate(529.50,431.20) scale(0.9,1)" font-size="10px">14:00</text>
<text transform="translate(588.00,431.20) scale(0.9,1)" font-size="10px">18:00</text>
<text transform="translate(646.50,431.20) scale(0.9,1)" font-size="10px">22:00</text>
<text transform="translate(705.00,431.20) scale(0.9,1)" font-size="10px">20. Oct</text>
<text transform="translate(763.50,431.20) scale(0.9,1)" font-size="10px">07:30</text>
<text transform="translate(822.00,431.20) scale(0.9,1)" font-size="10px">11:30</text>
<text transform="translate(880.50,431.20) scale(0.9,1)" font-size="10px">15:30</text>
<text transform="translate(939.00,431.20) scale(0.9,1)" font-size="10px">19:30</text>
<text transform="translate(997.50,431.20) scale(0.9,1)" font-size="10px">23:30</text>
<text transform="translate(1056.00,431.20) scale(0.9,1)" font-size="10px">21. Oct</text>
<text transform="translate(1114.50,431.20) scale(0.9,1)" font-size="10px">07:30</text>
<text transform="translate(1173.00,431.20) scale(0.9,1)" font-size="10px">11:30</text>
<text transform="translate(1231.50,431.20) scale(0.9,1)" font-size="10px">15:30</text>
<text transform="translate(1290.00,431.20) scale(0.9,1)" font-size="10px">19:30</text>
<text transform="translate(1348.50,431.20) scale(0.9,1)" font-size="10px">23:30</text>
<text transform="translate(1407.00,431.20) scale(0.9,1)" font-size="10px">22. Oct</text>
<text transform="translate(1465.50,431.20) scale(0.9,1)" font-size="10px">07:30</text>
<text transform="translate(1524.00,431.20) scale(0.9,1)" font-size="10px">11:30</text>
<text transform="translate(1582.50,431.20) scale(0.9,1)" font-size="10px">15:30</text>
</g>
<g>
<text x="195.8" y="24.2" font-size="9px" font-family="'Liberation Mono',monospace" fill="#8c8c8c" textLength="11" lengthAdjust="spacingAndGlyphs">30</text>
<text x="204.8" y="15.8" font-size="7px" font-weight="bold" fill="#a8a8a8" textLength="5.2" lengthAdjust="spacingAndGlyphs">m</text>
</g></svg>
</body></html>
